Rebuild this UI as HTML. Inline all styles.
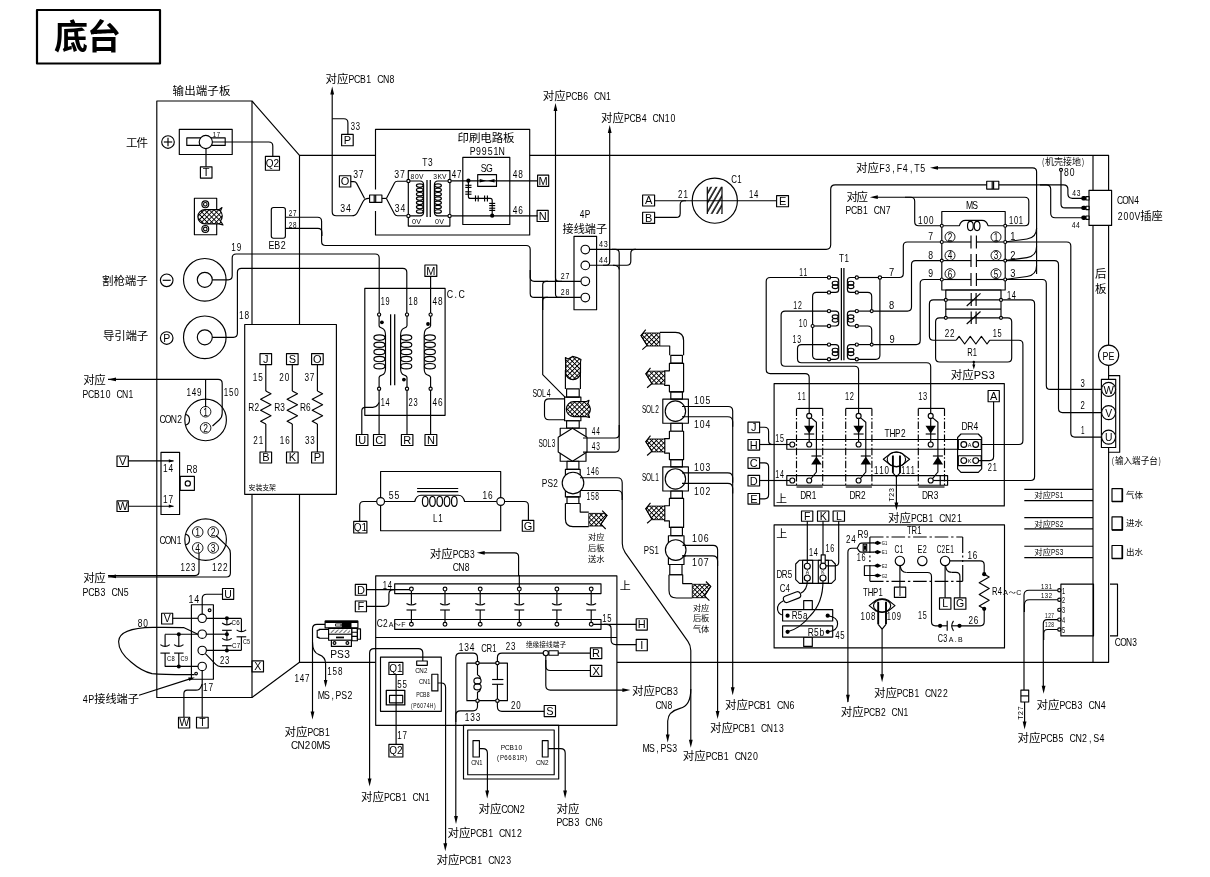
<!DOCTYPE html>
<html lang="zh"><head><meta charset="utf-8"><title>底台</title>
<style>
html,body{margin:0;padding:0;background:#fff}
svg{display:block;will-change:transform}
svg *{vector-effect:none}
.d{fill:none;stroke:#000;stroke-width:1.15;stroke-linecap:butt;stroke-linejoin:round}
text{font-family:"Liberation Sans","Noto Sans CJK SC",sans-serif;fill:#000;stroke:none;font-weight:400}
.bl{font-family:"Liberation Sans",sans-serif}
.mo{font-family:"Liberation Mono","Liberation Sans",monospace}
</style></head><body>
<svg width="1210" height="877" viewBox="0 0 1210 877">
<defs>
<pattern id="hx" width="3.4" height="3.4" patternUnits="userSpaceOnUse" patternTransform="rotate(45)"><rect width="3.4" height="3.4" fill="#fff" stroke="none"/><path d="M0 0H3.4M0 0V3.4" stroke="#000" stroke-width="1.9" fill="none"/></pattern>
<pattern id="hd" width="3" height="3" patternUnits="userSpaceOnUse" patternTransform="rotate(45)"><path d="M0 0V3" stroke="#000" stroke-width="1.1" fill="none"/></pattern>
<pattern id="hc" width="4.6" height="4.6" patternUnits="userSpaceOnUse" patternTransform="rotate(30)"><path d="M1 0V4.6" stroke="#000" stroke-width="1.5" fill="none"/></pattern>
</defs>
<g class="d">
<rect x="37" y="10" width="123" height="53.5" stroke-width="2.2"/>
<text x="54" y="48.9" font-size="34" style="font-weight:700" textLength="67" lengthAdjust="spacing">底台</text>
<path d="M375.5 155.3 L299.5 155.3 L252 101 L156.8 101 L156.8 697.5 L252 697.5 L299.5 662.3 L375.7 662.3"/>
<path d="M529.7 155.3 L1108.6 155.3 L1108.6 662.3 L616.9 662.3"/>
<path d="M252 101 L252 697.5"/>
<path d="M299.5 155.3 L299.5 662.3"/>
<path d="M1093 155.3 L1093 662.3"/>
<text x="172.6" y="95.14" font-size="11.5" textLength="57.8" lengthAdjust="spacing">输出端子板</text>
<text x="126" y="146.94" font-size="11.5" textLength="22" lengthAdjust="spacing">工件</text>
<circle cx="168" cy="142" r="6.3"/>
<path d="M163.8 142 L172.2 142"/>
<path d="M168 137.8 L168 146.2"/>
<rect x="179.3" y="129.3" width="52.9" height="25.2"/>
<rect x="186.8" y="137.9" width="38.4" height="7.5"/>
<circle cx="205.8" cy="142" r="6.6" fill="#fff"/>
<text transform="translate(212.5 136.88) scale(0.76 1)" x="2.64 7.92" y="0" font-size="8" text-anchor="middle" xml:space="preserve">17</text>
<path d="M212.4 142 L268.8 142 Q272.8 142 272.8 146 L272.8 156.3"/>
<rect x="265.4" y="156.3" width="14.1" height="13.9"/>
<text x="272.45" y="166.85" font-size="10" text-anchor="middle" class="bl">Q2</text>
<path d="M206 148.6 L206 166.8"/>
<rect x="200.4" y="166.8" width="11.6" height="11.3"/>
<text x="206.2" y="176.41" font-size="11" text-anchor="middle" class="bl">T</text>
<rect x="194.4" y="198.2" width="22.3" height="36.5"/>
<circle cx="205.3" cy="204.3" r="3.4"/>
<circle cx="205.3" cy="204.3" r="1.8"/>
<circle cx="205.3" cy="228.9" r="3.4"/>
<circle cx="205.3" cy="228.9" r="1.8"/>
<path d="M205 209.6 H219 L222 207.5 L220.5 211 Q224 216 220.5 221 L223 225 L219 223.9 H205 A7.15 7.15 0 0 1 205 209.6Z" fill="url(#hx)"/>
<rect x="271.3" y="207.5" width="14.1" height="30.7" rx="2.2"/>
<text transform="translate(288.4 215.66) scale(0.66 1)" x="3.17 9.5" y="0" font-size="9.6" text-anchor="middle" xml:space="preserve">27</text>
<text transform="translate(288.4 227.66) scale(0.66 1)" x="3.17 9.5" y="0" font-size="9.6" text-anchor="middle" xml:space="preserve">28</text>
<text transform="translate(268.5 248.8) scale(0.89 1)" x="3.3 9.9 16.5" y="0" font-size="10" text-anchor="middle" xml:space="preserve">EB2</text>
<text x="102" y="284.94" font-size="11.5" textLength="45.8" lengthAdjust="spacing">割枪端子</text>
<text x="103" y="340.14" font-size="11.5" textLength="45.2" lengthAdjust="spacing">导引端子</text>
<circle cx="166.7" cy="280.3" r="6.3"/>
<path d="M162.7 280.3 L170.7 280.3"/>
<circle cx="166.7" cy="338" r="6.3"/>
<text transform="translate(163.2 342.08) scale(1 1)" x="3.5" y="0" font-size="10.5" text-anchor="middle" xml:space="preserve">P</text>
<circle cx="204.8" cy="279.8" r="21.3"/>
<circle cx="204.8" cy="279.8" r="7.5"/>
<circle cx="204.8" cy="337.3" r="21.3"/>
<circle cx="204.8" cy="337.3" r="7.5"/>
<text transform="translate(230.9 250.98) scale(0.78 1)" x="3.47 10.4" y="0" font-size="10.5" text-anchor="middle" xml:space="preserve">19</text>
<text transform="translate(238.7 319.18) scale(0.79 1)" x="3.47 10.4" y="0" font-size="10.5" text-anchor="middle" xml:space="preserve">18</text>
<path d="M212.3 279.8 L228.2 279.8 Q232.2 279.8 232.2 275.8 L232.2 258 Q232.2 254 236.2 254 L375.2 254 Q379.2 254 379.2 258 L379.2 313.2"/>
<rect x="244.7" y="324.5" width="91.7" height="169.8" fill="#fff"/>
<rect x="260" y="353.6" width="11.6" height="11"/>
<text x="265.8" y="363.06" font-size="11" text-anchor="middle" class="bl">J</text>
<rect x="260" y="452" width="11.6" height="11"/>
<text x="265.8" y="461.46" font-size="11" text-anchor="middle" class="bl">B</text>
<path d="M265.8 364.6 L265.8 391"/>
<path d="M265.8 391 L271 393.75 L260.6 399.25 L271 404.75 L260.6 410.25 L271 415.75 L260.6 421.25 L265.8 424"/>
<path d="M265.8 424 L265.8 452"/>
<text transform="translate(252.4 381.08) scale(0.78 1)" x="3.47 10.4" y="0" font-size="10.5" text-anchor="middle" xml:space="preserve">15</text>
<text transform="translate(252.9 444.18) scale(0.77 1)" x="3.47 10.4" y="0" font-size="10.5" text-anchor="middle" xml:space="preserve">21</text>
<text transform="translate(248.6 411.48) scale(0.79 1)" x="3.47 10.4" y="0" font-size="10.5" text-anchor="middle" xml:space="preserve">R2</text>
<rect x="286.5" y="353.6" width="11.6" height="11"/>
<text x="292.3" y="363.06" font-size="11" text-anchor="middle" class="bl">S</text>
<rect x="286.5" y="452" width="11.6" height="11"/>
<text x="292.3" y="461.46" font-size="11" text-anchor="middle" class="bl">K</text>
<path d="M292.3 364.6 L292.3 391"/>
<path d="M292.3 391 L297.5 393.75 L287.1 399.25 L297.5 404.75 L287.1 410.25 L297.5 415.75 L287.1 421.25 L292.3 424"/>
<path d="M292.3 424 L292.3 452"/>
<text transform="translate(278.9 381.08) scale(0.78 1)" x="3.47 10.4" y="0" font-size="10.5" text-anchor="middle" xml:space="preserve">20</text>
<text transform="translate(279.4 444.18) scale(0.77 1)" x="3.47 10.4" y="0" font-size="10.5" text-anchor="middle" xml:space="preserve">16</text>
<text transform="translate(274.4 411.48) scale(0.79 1)" x="3.47 10.4" y="0" font-size="10.5" text-anchor="middle" xml:space="preserve">R3</text>
<rect x="311.6" y="353.6" width="11.6" height="11"/>
<text x="317.4" y="363.06" font-size="11" text-anchor="middle" class="bl">O</text>
<rect x="311.6" y="452" width="11.6" height="11"/>
<text x="317.4" y="461.46" font-size="11" text-anchor="middle" class="bl">P</text>
<path d="M317.4 364.6 L317.4 391"/>
<path d="M317.4 391 L322.6 393.75 L312.2 399.25 L322.6 404.75 L312.2 410.25 L322.6 415.75 L312.2 421.25 L317.4 424"/>
<path d="M317.4 424 L317.4 452"/>
<text transform="translate(304 381.08) scale(0.78 1)" x="3.47 10.4" y="0" font-size="10.5" text-anchor="middle" xml:space="preserve">37</text>
<text transform="translate(304.5 444.18) scale(0.77 1)" x="3.47 10.4" y="0" font-size="10.5" text-anchor="middle" xml:space="preserve">33</text>
<text transform="translate(300.2 411.48) scale(0.79 1)" x="3.47 10.4" y="0" font-size="10.5" text-anchor="middle" xml:space="preserve">R6</text>
<text x="248.6" y="489.88" font-size="6.9" textLength="27.4" lengthAdjust="spacing">安装支架</text>
<polygon points="108,379.4 116,377.5 116,381.3" fill="#000" stroke="none"/>
<path d="M108 379.4 L218.2 379.4 Q222.2 379.4 222.2 383.4 L222.2 413.3 Q222.2 417.3 219.22 419.97 L212.5 426"/>
<path d="M205.6 379.4 L205.6 407.2"/>
<text x="83.3" y="384.04" font-size="11.5" textLength="22.5" lengthAdjust="spacing">对应</text>
<text transform="translate(82.6 398.28) scale(0.82 1)" x="3.47 10.4 17.33 24.26 31.19 38.12 45.05 51.98 58.91" y="0" font-size="10.5" text-anchor="middle" xml:space="preserve">PCB10 CN1</text>
<text transform="translate(186 396.48) scale(0.77 1)" x="3.47 10.4 17.32" y="0" font-size="10.5" text-anchor="middle" xml:space="preserve">149</text>
<text transform="translate(223.4 396.48) scale(0.76 1)" x="3.47 10.4 17.32" y="0" font-size="10.5" text-anchor="middle" xml:space="preserve">150</text>
<circle cx="205.6" cy="419.9" r="20.8"/>
<circle cx="205.6" cy="411.7" r="5.3" stroke-width="0.9"/>
<text transform="translate(202.8 415.68) scale(0.81 1)" x="3.47" y="0" font-size="10.5" text-anchor="middle" xml:space="preserve">1</text>
<circle cx="205.6" cy="427.9" r="5.3" stroke-width="0.9"/>
<text transform="translate(202.8 431.88) scale(0.81 1)" x="3.47" y="0" font-size="10.5" text-anchor="middle" xml:space="preserve">2</text>
<text transform="translate(159.7 422.5) scale(0.86 1)" x="3.3 9.9 16.5 23.1" y="0" font-size="10" text-anchor="middle" xml:space="preserve">CON2</text>
<path d="M186 414.5 A5 5.5 0 0 1 186 425"/>
<rect x="161" y="452.3" width="18.6" height="62.2"/>
<rect x="117" y="456" width="11.3" height="10.5"/>
<text x="122.65" y="465.21" font-size="11" text-anchor="middle" class="bl">V</text>
<rect x="117" y="500.9" width="11.3" height="10.6"/>
<text x="122.65" y="510.16" font-size="11" text-anchor="middle" class="bl">W</text>
<path d="M128.3 460.9 L173.5 460.9"/>
<path d="M128.3 506.2 L173.5 506.2"/>
<polygon points="173.8,460.9 168.8,459.3 168.8,462.5" fill="#000" stroke="none"/>
<polygon points="173.8,506.2 168.8,504.6 168.8,507.8" fill="#000" stroke="none"/>
<text transform="translate(162.6 471.5) scale(0.83 1)" x="3.3 9.9" y="0" font-size="10" text-anchor="middle" xml:space="preserve">14</text>
<text transform="translate(162.6 502.9) scale(0.83 1)" x="3.3 9.9" y="0" font-size="10" text-anchor="middle" xml:space="preserve">17</text>
<text transform="translate(186.8 472.8) scale(0.83 1)" x="3.3 9.9" y="0" font-size="10" text-anchor="middle" xml:space="preserve">R8</text>
<rect x="180.2" y="476.4" width="14.2" height="13.9"/>
<circle cx="187.8" cy="483.4" r="2.6"/>
<circle cx="205.6" cy="539.6" r="20.8"/>
<circle cx="197.7" cy="532" r="5.3" stroke-width="0.9"/>
<text transform="translate(194.9 535.98) scale(0.81 1)" x="3.47" y="0" font-size="10.5" text-anchor="middle" xml:space="preserve">1</text>
<circle cx="213.2" cy="532" r="5.3" stroke-width="0.9"/>
<text transform="translate(210.4 535.98) scale(0.81 1)" x="3.47" y="0" font-size="10.5" text-anchor="middle" xml:space="preserve">2</text>
<circle cx="197.7" cy="547.9" r="5.3" stroke-width="0.9"/>
<text transform="translate(194.9 551.88) scale(0.81 1)" x="3.47" y="0" font-size="10.5" text-anchor="middle" xml:space="preserve">4</text>
<circle cx="213.2" cy="547.9" r="5.3" stroke-width="0.9"/>
<text transform="translate(210.4 551.88) scale(0.81 1)" x="3.47" y="0" font-size="10.5" text-anchor="middle" xml:space="preserve">3</text>
<text transform="translate(159.7 543.8) scale(0.84 1)" x="3.3 9.9 16.5 23.1" y="0" font-size="10" text-anchor="middle" xml:space="preserve">CON1</text>
<path d="M186 534.2 A5 5.5 0 0 1 186 544.7"/>
<text transform="translate(180.2 570.78) scale(0.75 1)" x="3.47 10.39 17.33" y="0" font-size="10.5" text-anchor="middle" xml:space="preserve">123</text>
<text transform="translate(211.6 570.78) scale(0.79 1)" x="3.47 10.4 17.32" y="0" font-size="10.5" text-anchor="middle" xml:space="preserve">122</text>
<path d="M199 552.4 L199 571.6 Q199 575.6 195 575.6 L108 575.6"/>
<path d="M216 535.5 L227.53 546.71 Q230.4 549.5 230.4 553.5 L230.4 573 Q230.4 577 226.4 577 L108 577"/>
<polygon points="108,576.3 116,574.4 116,578.2" fill="#000" stroke="none"/>
<text x="83.3" y="581.74" font-size="11.5" textLength="22.5" lengthAdjust="spacing">对应</text>
<text transform="translate(82.6 595.98) scale(0.84 1)" x="3.47 10.4 17.33 24.25 31.19 38.12 45.05 51.98" y="0" font-size="10.5" text-anchor="middle" xml:space="preserve">PCB3 CN5</text>
<text x="325.6" y="82.84" font-size="11.5" textLength="23" lengthAdjust="spacing">对应</text><text transform="translate(348.6 82.84) scale(0.76 1)" x="3.8 11.39 18.98 26.57 34.16 41.75 49.34 56.93" y="0" font-size="11.5" text-anchor="middle" xml:space="preserve">PCB1 CN8</text>
<polygon points="332.2,86.6 330.3,94.6 334.1,94.6" fill="#000" stroke="none"/>
<path d="M332.2 90 L332.2 211.7 Q332.2 215.7 336.2 215.7 L351.7 215.7 Q355.7 215.7 357.53 212.14 L362.77 201.96 Q364.6 198.4 368.6 198.4 L369.6 198.4"/>
<path d="M332.2 118.7 L343.9 118.7 Q347.9 118.7 347.9 122.7 L347.9 134.4"/>
<rect x="341.6" y="134.4" width="11.6" height="11.4"/>
<text x="347.4" y="144.06" font-size="11" text-anchor="middle" class="bl">P</text>
<text transform="translate(350.4 130.08) scale(0.73 1)" x="3.47 10.4" y="0" font-size="10.5" text-anchor="middle" xml:space="preserve">33</text>
<rect x="339.4" y="175.7" width="11.4" height="11.3"/>
<text x="345.1" y="185.31" font-size="11" text-anchor="middle" class="bl">O</text>
<text transform="translate(352.7 178.28) scale(0.82 1)" x="3.47 10.4" y="0" font-size="10.5" text-anchor="middle" xml:space="preserve">37</text>
<text transform="translate(339.8 212.38) scale(0.83 1)" x="3.47 10.4" y="0" font-size="10.5" text-anchor="middle" xml:space="preserve">34</text>
<path d="M350.8 181.6 L353.7 181.6 Q355.7 181.6 356.64 183.37 L364.6 198.4"/>
<rect x="369.6" y="195" width="12.3" height="7.3"/>
<path d="M375.7 195 L375.7 202.3"/>
<path d="M374.2 195 L374.2 202.3"/>
<path d="M381.9 198.4 L386.4 198.4"/>
<path d="M386.4 198.4 L394.47 182.97 Q395.4 181.2 397.4 181.2 L406.8 181.2"/>
<path d="M386.4 198.4 L394.48 213.93 Q395.4 215.7 397.4 215.7 L406.8 215.7"/>
<text transform="translate(393.8 178.28) scale(0.83 1)" x="3.47 10.4" y="0" font-size="10.5" text-anchor="middle" xml:space="preserve">37</text>
<text transform="translate(394.4 212.38) scale(0.82 1)" x="3.47 10.4" y="0" font-size="10.5" text-anchor="middle" xml:space="preserve">34</text>
<path d="M375.5 189.6 L375.5 129.3 L529.7 129.3 L529.7 235 L375.5 235 L375.5 211"/>
<text x="457.5" y="142.34" font-size="11.5" textLength="57" lengthAdjust="spacing">印刷电路板</text>
<text transform="translate(469.8 155.26) scale(0.8 1)" x="3.63 10.89 18.15 25.41 32.67 39.93" y="0" font-size="11" text-anchor="middle" xml:space="preserve">P9951N</text>
<text transform="translate(422.1 165.66) scale(0.76 1)" x="3.63 10.89" y="0" font-size="11" text-anchor="middle" xml:space="preserve">T3</text>
<rect x="408.3" y="170.6" width="41.6" height="55.5"/>
<text transform="translate(410.2 178.8) scale(0.9 1)" x="2.48 7.43 12.38" y="0" font-size="7.5" text-anchor="middle" xml:space="preserve">80V</text>
<text transform="translate(433 178.8) scale(0.9 1)" x="2.48 7.43 12.38" y="0" font-size="7.5" text-anchor="middle" xml:space="preserve">3KV</text>
<text transform="translate(411.6 224.1) scale(0.97 1)" x="2.48 7.43" y="0" font-size="7.5" text-anchor="middle" xml:space="preserve">0V</text>
<text transform="translate(434.6 224.1) scale(0.95 1)" x="2.48 7.42" y="0" font-size="7.5" text-anchor="middle" xml:space="preserve">0V</text>
<path d="M409.9 181 H420 Q423.6 181 423.6 185 V212 Q423.6 215.9 420 215.9 H409.9"/>
<path d="M448 181 H438 Q434.4 181 434.4 185 V212 Q434.4 215.9 438 215.9 H448"/>
<ellipse cx="419.8" cy="185.6" rx="3.4" ry="1.7"/><ellipse cx="438" cy="185.6" rx="3.4" ry="1.7"/>
<ellipse cx="419.8" cy="189.9" rx="3.4" ry="1.7"/><ellipse cx="438" cy="189.9" rx="3.4" ry="1.7"/>
<ellipse cx="419.8" cy="194.2" rx="3.4" ry="1.7"/><ellipse cx="438" cy="194.2" rx="3.4" ry="1.7"/>
<ellipse cx="419.8" cy="198.5" rx="3.4" ry="1.7"/><ellipse cx="438" cy="198.5" rx="3.4" ry="1.7"/>
<ellipse cx="419.8" cy="202.8" rx="3.4" ry="1.7"/><ellipse cx="438" cy="202.8" rx="3.4" ry="1.7"/>
<ellipse cx="419.8" cy="207.1" rx="3.4" ry="1.7"/><ellipse cx="438" cy="207.1" rx="3.4" ry="1.7"/>
<ellipse cx="419.8" cy="211.4" rx="3.4" ry="1.7"/><ellipse cx="438" cy="211.4" rx="3.4" ry="1.7"/>
<path d="M427 179.9 L427 217.1" stroke-width="1.25"/>
<path d="M430.3 179.9 L430.3 217.1" stroke-width="1.25"/>
<circle cx="408.4" cy="181" r="1.6" fill="#fff"/>
<circle cx="408.4" cy="215.9" r="1.6" fill="#fff"/>
<circle cx="449.6" cy="181" r="1.6" fill="#fff"/>
<circle cx="449.6" cy="215.9" r="1.6" fill="#fff"/>
<text transform="translate(451.3 178.28) scale(0.76 1)" x="3.47 10.4" y="0" font-size="10.5" text-anchor="middle" xml:space="preserve">47</text>
<rect x="462.8" y="157.3" width="47" height="67.2"/>
<text transform="translate(480.7 172.16) scale(0.79 1)" x="3.63 10.89" y="0" font-size="11" text-anchor="middle" xml:space="preserve">SG</text>
<path d="M451.2 180.8 L537.6 180.8"/>
<path d="M451.2 215.8 L537.6 215.8"/>
<rect x="477.7" y="174.6" width="18.8" height="11.8"/>
<polygon points="486.2,180.7 479.7,178.9 479.7,182.5" fill="#000" stroke="none"/>
<polygon points="488,180.7 494.5,178.9 494.5,182.5" fill="#000" stroke="none"/>
<circle cx="468.4" cy="180.7" r="2.1" fill="#000" stroke="none"/>
<circle cx="492.2" cy="215.7" r="2.1" fill="#000" stroke="none"/>
<path d="M468.4 180.7 L468.4 196.4 Q468.4 198.4 470.4 198.4 L490.2 198.4 Q492.2 198.4 492.2 200.4 L492.2 215.7"/>
<path d="M465.3 185.3 L471.5 185.3"/>
<path d="M465.3 187.4 L471.5 187.4"/>
<path d="M465.3 191.8 L471.5 191.8"/>
<path d="M465.3 194.2 L471.5 194.2"/>
<path d="M475.5 195.4 L475.5 201.4"/>
<path d="M478.2 195.4 L478.2 201.4"/>
<path d="M484.6 195.4 L484.6 201.4"/>
<path d="M487.4 195.4 L487.4 201.4"/>
<path d="M489.2 203.4 L495.2 203.4"/>
<path d="M489.2 205.6 L495.2 205.6"/>
<path d="M489.2 208.2 L495.2 208.2"/>
<path d="M489.2 210.4 L495.2 210.4"/>
<text transform="translate(512.4 178.28) scale(0.79 1)" x="3.47 10.4" y="0" font-size="10.5" text-anchor="middle" xml:space="preserve">48</text>
<text transform="translate(512.4 213.98) scale(0.79 1)" x="3.47 10.4" y="0" font-size="10.5" text-anchor="middle" xml:space="preserve">46</text>
<rect x="537.6" y="175.1" width="11.1" height="11.3"/>
<text x="543.15" y="184.71" font-size="11" text-anchor="middle" class="bl">M</text>
<rect x="537.1" y="210.3" width="11.1" height="11.2"/>
<text x="542.65" y="219.86" font-size="11" text-anchor="middle" class="bl">N</text>
<path d="M285.6 217.2 L317.6 217.2 Q321.6 217.2 321.6 221.2 L321.6 241.5 Q321.6 245.5 325.6 245.5 L526.2 245.5 Q530.2 245.5 530.2 249.5 L530.2 277.3 Q530.2 281.3 534.2 281.3 L580.9 281.3"/>
<path d="M285.6 228.4 L317.9 228.4 Q321.9 228.4 321.9 232.4 L321.9 236"/>
<path d="M530.2 270 L530.2 293.4 Q530.2 297.4 534.2 297.4 L580.9 297.4"/>
<path d="M212.3 337.3 L233.4 337.3 Q237.4 337.3 237.4 333.3 L237.4 272.3 Q237.4 268.3 241.4 268.3 L402.8 268.3 Q406.8 268.3 406.8 272.3 L406.8 313.2"/>
<text x="542.8" y="99.64" font-size="11.5" textLength="23" lengthAdjust="spacing">对应</text><text transform="translate(565.8 99.64) scale(0.75 1)" x="3.8 11.39 18.98 26.57 34.16 41.75 49.34 56.93" y="0" font-size="11.5" text-anchor="middle" xml:space="preserve">PCB6 CN1</text>
<text x="601" y="121.54" font-size="11.5" textLength="23" lengthAdjust="spacing">对应</text><text transform="translate(624 121.54) scale(0.76 1)" x="3.8 11.38 18.98 26.57 34.16 41.75 49.34 56.93 64.52" y="0" font-size="11.5" text-anchor="middle" xml:space="preserve">PCB4 CN10</text>
<polygon points="555.5,103.1 553.6,111.1 557.4,111.1" fill="#000" stroke="none"/>
<polygon points="609.7,125 607.8,133 611.6,133" fill="#000" stroke="none"/>
<path d="M555.5 108 L555.5 293.9 Q555.5 297.4 559 297.4 L562 297.4"/>
<path d="M555.5 270 L555.5 277.8 Q555.5 281.3 559 281.3 L562 281.3"/>
<path d="M548 281.3 L546.2 281.3 Q542.7 281.3 542.7 284.8 L542.7 300"/>
<path d="M542.7 300 L542.7 374.6 L565 397.1"/>
<path d="M548 297.4 L546.2 297.4 Q542.7 297.4 542.7 300.9 L542.7 310"/>
<text transform="translate(579.3 217.68) scale(0.79 1)" x="3.47 10.4" y="0" font-size="10.5" text-anchor="middle" xml:space="preserve">4P</text>
<text x="562.5" y="232.83" font-size="11.2" textLength="44.6" lengthAdjust="spacing">接线端子</text>
<rect x="574" y="236.3" width="22.6" height="73.4"/>
<circle cx="585.3" cy="249.5" r="4.3" fill="#fff"/>
<circle cx="585.3" cy="265.4" r="4.3" fill="#fff"/>
<circle cx="585.3" cy="281.3" r="4.3" fill="#fff"/>
<circle cx="585.3" cy="297.5" r="4.3" fill="#fff"/>
<text transform="translate(598.6 247.42) scale(0.76 1)" x="3.14 9.4" y="0" font-size="9.5" text-anchor="middle" xml:space="preserve">43</text>
<text transform="translate(598.6 263.02) scale(0.76 1)" x="3.14 9.4" y="0" font-size="9.5" text-anchor="middle" xml:space="preserve">44</text>
<text transform="translate(560.5 279.42) scale(0.74 1)" x="3.14 9.41" y="0" font-size="9.5" text-anchor="middle" xml:space="preserve">27</text>
<text transform="translate(560.5 295.22) scale(0.74 1)" x="3.14 9.41" y="0" font-size="9.5" text-anchor="middle" xml:space="preserve">28</text>
<path d="M609.7 130 L609.7 261.7 Q609.7 265.2 606.2 265.2 L603 265.2"/>
<circle cx="714.8" cy="200.7" r="22.6"/>
<rect x="707.3" y="186.8" width="14.7" height="27.1" fill="url(#hc)" stroke="none"/>
<path d="M707.3 213.9V186.8M722 186.8V213.9"/>
<text transform="translate(731.6 182.98) scale(0.75 1)" x="3.47 10.4" y="0" font-size="10.5" text-anchor="middle" xml:space="preserve">C1</text>
<rect x="642.6" y="195" width="12" height="11"/>
<text x="648.6" y="204.46" font-size="11" text-anchor="middle" class="bl">A</text>
<rect x="642.6" y="212.2" width="12" height="11.2"/>
<text x="648.6" y="221.76" font-size="11" text-anchor="middle" class="bl">B</text>
<rect x="776.6" y="195.6" width="11.9" height="11.1"/>
<text x="782.55" y="205.11" font-size="11" text-anchor="middle" class="bl">E</text>
<path d="M654.6 200.7 L776.6 200.7"/>
<path d="M654.6 217.4 L676.2 217.4 Q680.2 217.4 680.2 213.4 L680.2 204.7 Q680.2 200.7 684.2 200.7 L686 200.7"/>
<text transform="translate(677.7 197.78) scale(0.76 1)" x="3.47 10.4" y="0" font-size="10.5" text-anchor="middle" xml:space="preserve">21</text>
<text transform="translate(748.5 197.78) scale(0.74 1)" x="3.47 10.4" y="0" font-size="10.5" text-anchor="middle" xml:space="preserve">14</text>
<path d="M589.6 249.3 L826.2 249.3 Q830.7 249.3 830.7 244.8 L830.7 189.3 Q830.7 184.8 835.2 184.8 L1063.4 184.8 Q1067.9 184.8 1067.9 189.3 L1067.9 193.8 Q1067.9 198.3 1072.4 198.3 L1082 198.3"/>
<path d="M589.6 265.2 L626.8 265.2 Q630.8 265.2 630.8 261.2 L630.8 253.3 Q630.8 249.3 634.8 249.3 L636 249.3"/>
<path d="M612 249.3 L615.4 249.3 Q619.2 249.3 619.2 253.1 L619.2 430"/>
<path d="M613 265.2 Q619.2 265.2 619.2 269.5"/>
<rect x="986.7" y="181.2" width="12.1" height="7.9" fill="#fff"/>
<path d="M992.2 181.2 L992.2 189.1"/>
<path d="M993.6 181.2 L993.6 189.1"/>
<path d="M1040 184.8 L1046.2 184.8 Q1050.7 184.8 1050.7 189.3 L1050.7 213.2 Q1050.7 217.7 1055.2 217.7 L1082 217.7"/>
<text transform="translate(1041.2 164.84) scale(0.64 1)" x="2.97" y="0" font-size="9" text-anchor="middle" xml:space="preserve">(</text><text x="1045" y="164.84" font-size="9" textLength="36" lengthAdjust="spacing">机壳接地</text><text transform="translate(1081 164.84) scale(0.64 1)" x="2.97" y="0" font-size="9" text-anchor="middle" xml:space="preserve">)</text>
<circle cx="1061" cy="169.8" r="1.5" fill="#fff"/>
<text transform="translate(1063.6 175.98) scale(0.82 1)" x="3.47 10.39" y="0" font-size="10.5" text-anchor="middle" xml:space="preserve">80</text>
<path d="M1061 171.3 L1061 203.9 Q1061 207.9 1065 207.9 L1082 207.9"/>
<text transform="translate(1072 195.77) scale(0.76 1)" x="2.9 8.71" y="0" font-size="8.8" text-anchor="middle" xml:space="preserve">43</text>
<text transform="translate(1071.3 227.87) scale(0.77 1)" x="2.9 8.71" y="0" font-size="8.8" text-anchor="middle" xml:space="preserve">44</text>
<rect x="1089" y="190.3" width="22.6" height="35.1" fill="#fff"/>
<rect x="1081.3" y="196.1" width="5" height="4.4" rx="1.8" fill="#000" stroke="none"/>
<rect x="1086" y="196.6" width="3" height="3.4" fill="#fff"/>
<rect x="1081.3" y="205.7" width="5" height="4.4" rx="1.8" fill="#000" stroke="none"/>
<rect x="1086" y="206.2" width="3" height="3.4" fill="#fff"/>
<rect x="1081.3" y="215.5" width="5" height="4.4" rx="1.8" fill="#000" stroke="none"/>
<rect x="1086" y="216" width="3" height="3.4" fill="#fff"/>
<text transform="translate(1117.2 204.28) scale(0.8 1)" x="3.47 10.4 17.33 24.26" y="0" font-size="10.5" text-anchor="middle" xml:space="preserve">CON4</text>
<text transform="translate(1117.2 219.97) scale(0.77 1)" x="3.73 11.19 18.65 26.1" y="0" font-size="11.3" text-anchor="middle" xml:space="preserve">200V</text><text x="1140.2" y="219.97" font-size="11.3" textLength="22.6" lengthAdjust="spacing">插座</text>
<text x="1095" y="277.94" font-size="11.5" textLength="11.5" lengthAdjust="spacing">后</text>
<text x="1095" y="292.74" font-size="11.5" textLength="11.5" lengthAdjust="spacing">板</text>
<text x="856" y="171.94" font-size="11.5" textLength="23" lengthAdjust="spacing">对应</text><text transform="translate(879 171.94) scale(0.77 1)" x="3.8 11.39 18.98 26.57 34.16 41.75 49.34 56.93" y="0" font-size="11.5" text-anchor="middle" xml:space="preserve">F3,F4,T5</text>
<polygon points="930,167.8 938,165.9 938,169.7" fill="#000" stroke="none"/>
<path d="M934 167.8 L1032.6 167.8 Q1036.6 167.8 1036.6 171.8 L1036.6 274"/>
<path d="M1036.6 228 Q1036.6 237.5 1027 239 L1006.5 241.8"/>
<path d="M1036.6 246.6 Q1036.6 256.1 1027 257.6 L1006.5 260.4"/>
<path d="M1036.6 265.5 Q1036.6 275 1027 276.5 L1006.5 279.3"/>
<text x="846.4" y="201.34" font-size="11.5" textLength="21.6" lengthAdjust="spacing">对应</text>
<text transform="translate(845.6 214.18) scale(0.82 1)" x="3.47 10.4 17.33 24.26 31.19 38.12 45.05 51.98" y="0" font-size="10.5" text-anchor="middle" xml:space="preserve">PCB1 CN7</text>
<polygon points="869.8,197.2 877.8,195.3 877.8,199.1" fill="#000" stroke="none"/>
<path d="M874 197.2 L1024.8 197.2 Q1028.8 197.2 1028.8 201.2 L1028.8 221.7 Q1028.8 225.7 1024.8 225.7 L1006.7 225.7"/>
<path d="M905 197.2 L910.7 197.2 Q914.7 197.2 914.7 201.2 L914.7 221.7 Q914.7 225.7 918.7 225.7 L940.3 225.7"/>
<text transform="translate(966.7 208.98) scale(0.82 1)" x="3.47 10.4" y="0" font-size="10.5" text-anchor="middle" xml:space="preserve">MS</text>
<rect x="941.8" y="211.5" width="63.4" height="78.5"/>
<text transform="translate(917.7 224.08) scale(0.78 1)" x="3.47 10.4 17.33" y="0" font-size="10.5" text-anchor="middle" xml:space="preserve">100</text>
<text transform="translate(1008.5 224.08) scale(0.72 1)" x="3.47 10.4 17.32" y="0" font-size="10.5" text-anchor="middle" xml:space="preserve">101</text>
<path d="M943.3 225.7H959.4 Q960.8 220.4 965.5 220.4H982Q986.6 220.4 988 225.7H1003.7"/>
<ellipse cx="970.4" cy="226" rx="2.9" ry="4.6"/><ellipse cx="977.1" cy="226" rx="2.9" ry="4.6"/>
<path d="M943.3 242 L971.2 242"/>
<path d="M976.1 242 L1003.7 242"/>
<text transform="translate(927.7 240.48) scale(0.82 1)" x="3.47" y="0" font-size="10.5" text-anchor="middle" xml:space="preserve">7</text>
<text transform="translate(1009.7 240.48) scale(0.89 1)" x="3.47" y="0" font-size="10.5" text-anchor="middle" xml:space="preserve">1</text>
<circle cx="950" cy="236.9" r="5" stroke-width="0.9"/>
<text transform="translate(947.3 240.8) scale(0.82 1)" x="3.3" y="0" font-size="10" text-anchor="middle" xml:space="preserve">2</text>
<circle cx="996" cy="236.9" r="5" stroke-width="0.9"/>
<text transform="translate(993.3 240.8) scale(0.82 1)" x="3.3" y="0" font-size="10" text-anchor="middle" xml:space="preserve">1</text>
<path d="M971 235.4 L971 248.4"/>
<path d="M976.4 235.4 L976.4 248.4"/>
<path d="M943.3 260.6 L971.2 260.6"/>
<path d="M976.1 260.6 L1003.7 260.6"/>
<text transform="translate(927.7 259.08) scale(0.82 1)" x="3.47" y="0" font-size="10.5" text-anchor="middle" xml:space="preserve">8</text>
<text transform="translate(1009.7 259.08) scale(0.89 1)" x="3.47" y="0" font-size="10.5" text-anchor="middle" xml:space="preserve">2</text>
<circle cx="950" cy="255.5" r="5" stroke-width="0.9"/>
<text transform="translate(947.3 259.4) scale(0.82 1)" x="3.3" y="0" font-size="10" text-anchor="middle" xml:space="preserve">4</text>
<circle cx="996" cy="255.5" r="5" stroke-width="0.9"/>
<text transform="translate(993.3 259.4) scale(0.82 1)" x="3.3" y="0" font-size="10" text-anchor="middle" xml:space="preserve">3</text>
<path d="M971 254 L971 267"/>
<path d="M976.4 254 L976.4 267"/>
<path d="M943.3 279.5 L971.2 279.5"/>
<path d="M976.1 279.5 L1003.7 279.5"/>
<text transform="translate(927.7 277.28) scale(0.82 1)" x="3.47" y="0" font-size="10.5" text-anchor="middle" xml:space="preserve">9</text>
<text transform="translate(1009.7 277.28) scale(0.89 1)" x="3.47" y="0" font-size="10.5" text-anchor="middle" xml:space="preserve">3</text>
<circle cx="950" cy="273.7" r="5" stroke-width="0.9"/>
<text transform="translate(947.3 277.6) scale(0.82 1)" x="3.3" y="0" font-size="10" text-anchor="middle" xml:space="preserve">6</text>
<circle cx="996" cy="273.7" r="5" stroke-width="0.9"/>
<text transform="translate(993.3 277.6) scale(0.82 1)" x="3.3" y="0" font-size="10" text-anchor="middle" xml:space="preserve">5</text>
<path d="M971 272.9 L971 285.9"/>
<path d="M976.4 272.9 L976.4 285.9"/>
<circle cx="941.8" cy="225.7" r="1.5" fill="#fff"/>
<circle cx="1005.2" cy="225.7" r="1.5" fill="#fff"/>
<circle cx="941.8" cy="242" r="1.5" fill="#fff"/>
<circle cx="1005.2" cy="242" r="1.5" fill="#fff"/>
<circle cx="941.8" cy="260.6" r="1.5" fill="#fff"/>
<circle cx="1005.2" cy="260.6" r="1.5" fill="#fff"/>
<circle cx="941.8" cy="279.5" r="1.5" fill="#fff"/>
<circle cx="1005.2" cy="279.5" r="1.5" fill="#fff"/>
<rect x="945.8" y="290" width="55.2" height="27.8"/>
<path d="M945.8 299.9 L1001 299.9"/>
<path d="M945.8 309.1 L1001 309.1"/>
<path d="M971.2 293 L971.2 306"/>
<path d="M971.2 311.5 L971.2 324"/>
<path d="M976.1 293 L976.1 306"/>
<path d="M976.1 311.5 L976.1 324"/>
<path d="M966.7 306 L980.5 293.4"/>
<path d="M966.7 324 L980.5 311.5"/>
<circle cx="945.8" cy="299.9" r="1.5" fill="#fff"/>
<circle cx="1001" cy="299.9" r="1.5" fill="#fff"/>
<circle cx="945.8" cy="317.8" r="1.5" fill="#fff"/>
<circle cx="1001" cy="317.8" r="1.5" fill="#fff"/>
<text transform="translate(1006.5 298.68) scale(0.71 1)" x="3.46 10.39" y="0" font-size="10.5" text-anchor="middle" xml:space="preserve">14</text>
<path d="M1002.5 299.9 L1030.6 299.9 Q1034.6 299.9 1034.6 303.9 L1034.6 476.5 Q1034.6 480.5 1030.6 480.5 L947.6 480.5"/>
<path d="M944.3 299.9 L933.4 299.9 Q929.4 299.9 929.4 303.9 L929.4 336.2 Q929.4 340.2 933.4 340.2 L956.3 340.2"/>
<path d="M956.3 340.2 L959.09 336.4 L964.67 344 L970.26 336.4 L975.84 344 L981.42 336.4 L987.01 344 L989.8 340.2"/>
<text transform="translate(944.3 337.18) scale(0.77 1)" x="3.47 10.4" y="0" font-size="10.5" text-anchor="middle" xml:space="preserve">22</text>
<text transform="translate(992.3 337.18) scale(0.71 1)" x="3.47 10.4" y="0" font-size="10.5" text-anchor="middle" xml:space="preserve">15</text>
<text transform="translate(967.4 356.38) scale(0.72 1)" x="3.47 10.4" y="0" font-size="10.5" text-anchor="middle" xml:space="preserve">R1</text>
<path d="M989.8 340.2 L1018.9 340.2 Q1022.9 340.2 1022.9 344.2 L1022.9 440.5 Q1022.9 444.5 1018.9 444.5 L978.6 444.5"/>
<path d="M944.3 317.8 L939.6 317.8 Q935.6 317.8 935.6 321.8 L935.6 358 Q935.6 362 939.6 362 L1007.7 362 Q1011.7 362 1011.7 358 L1011.7 321.8 Q1011.7 317.8 1007.7 317.8 L1002.5 317.8"/>
<circle cx="973.8" cy="362" r="1.2" fill="#000" stroke="none"/>
<path d="M973.8 362 L973.8 366"/>
<polygon points="973.8,369.6 972.3,364.6 975.3,364.6" fill="#000" stroke="none"/>
<text x="950.8" y="379.04" font-size="11.5" textLength="23" lengthAdjust="spacing">对应</text><text transform="translate(973.8 379.04) scale(0.95 1)" x="3.8 11.39 18.98" y="0" font-size="11.5" text-anchor="middle" xml:space="preserve">PS3</text>
<path d="M940.3 242 L907.3 242 Q903.3 242 903.3 246 L903.3 273.5 Q903.3 277.5 899.3 277.5 L879.9 277.5"/>
<path d="M940.3 260.6 L915.5 260.6 Q911.5 260.6 911.5 264.6 L911.5 307.1 Q911.5 311.1 907.5 311.1 L873.2 311.1"/>
<path d="M940.3 279.5 L924.2 279.5 Q920.2 279.5 920.2 283.5 L920.2 340.6 Q920.2 344.6 916.2 344.6 L873.2 344.6"/>
<text transform="translate(888.4 275.58) scale(0.89 1)" x="3.47" y="0" font-size="10.5" text-anchor="middle" xml:space="preserve">7</text>
<text transform="translate(888.4 309.18) scale(0.89 1)" x="3.47" y="0" font-size="10.5" text-anchor="middle" xml:space="preserve">8</text>
<text transform="translate(889 342.68) scale(0.89 1)" x="3.47" y="0" font-size="10.5" text-anchor="middle" xml:space="preserve">9</text>
<text transform="translate(838.9 261.88) scale(0.76 1)" x="3.47 10.4" y="0" font-size="10.5" text-anchor="middle" xml:space="preserve">T1</text>
<path d="M841.4 268 L841.4 360.3" stroke-width="1.25"/>
<path d="M843.9 268 L843.9 360.3" stroke-width="1.25"/>
<path d="M830.5 277.5 H835.6 Q838.7 277.5 838.7 280.5 V289.4 Q838.7 292.4 835.6 292.4 H830.5"/>
<path d="M855.3 277.5 H850.4 Q847.4 277.5 847.4 280.5 V289.4 Q847.4 292.4 850.4 292.4 H855.3"/>
<ellipse cx="835.2" cy="283.15" rx="3" ry="1.9"/><ellipse cx="835.2" cy="286.75" rx="3" ry="1.9"/>
<ellipse cx="850.9" cy="283.15" rx="3" ry="1.9"/><ellipse cx="850.9" cy="286.75" rx="3" ry="1.9"/>
<circle cx="829" cy="277.5" r="1.6" fill="#fff"/>
<circle cx="829" cy="292.4" r="1.6" fill="#fff"/>
<circle cx="856.8" cy="277.5" r="1.6" fill="#fff"/>
<circle cx="856.8" cy="292.4" r="1.6" fill="#fff"/>
<path d="M830.5 311.1 H835.6 Q838.7 311.1 838.7 314.1 V323 Q838.7 326 835.6 326 H830.5"/>
<path d="M855.3 311.1 H850.4 Q847.4 311.1 847.4 314.1 V323 Q847.4 326 850.4 326 H855.3"/>
<ellipse cx="835.2" cy="316.75" rx="3" ry="1.9"/><ellipse cx="835.2" cy="320.35" rx="3" ry="1.9"/>
<ellipse cx="850.9" cy="316.75" rx="3" ry="1.9"/><ellipse cx="850.9" cy="320.35" rx="3" ry="1.9"/>
<circle cx="829" cy="311.1" r="1.6" fill="#fff"/>
<circle cx="829" cy="326" r="1.6" fill="#fff"/>
<circle cx="856.8" cy="311.1" r="1.6" fill="#fff"/>
<circle cx="856.8" cy="326" r="1.6" fill="#fff"/>
<path d="M830.5 344.6 H835.6 Q838.7 344.6 838.7 347.6 V356.3 Q838.7 359.3 835.6 359.3 H830.5"/>
<path d="M855.3 344.6 H850.4 Q847.4 344.6 847.4 347.6 V356.3 Q847.4 359.3 850.4 359.3 H855.3"/>
<ellipse cx="835.2" cy="350.15" rx="3" ry="1.9"/><ellipse cx="835.2" cy="353.75" rx="3" ry="1.9"/>
<ellipse cx="850.9" cy="350.15" rx="3" ry="1.9"/><ellipse cx="850.9" cy="353.75" rx="3" ry="1.9"/>
<circle cx="829" cy="344.6" r="1.6" fill="#fff"/>
<circle cx="829" cy="359.3" r="1.6" fill="#fff"/>
<circle cx="856.8" cy="344.6" r="1.6" fill="#fff"/>
<circle cx="856.8" cy="359.3" r="1.6" fill="#fff"/>
<text transform="translate(798.9 275.58) scale(0.63 1)" x="3.46 10.39" y="0" font-size="10.5" text-anchor="middle" xml:space="preserve">11</text>
<text transform="translate(793 309.18) scale(0.66 1)" x="3.47 10.4" y="0" font-size="10.5" text-anchor="middle" xml:space="preserve">12</text>
<text transform="translate(792.2 342.68) scale(0.66 1)" x="3.47 10.4" y="0" font-size="10.5" text-anchor="middle" xml:space="preserve">13</text>
<text transform="translate(798.4 326.98) scale(0.66 1)" x="3.47 10.4" y="0" font-size="10.5" text-anchor="middle" xml:space="preserve">10</text>
<path d="M827.5 292.4 L816.6 292.4 Q812.6 292.4 812.6 296.4 L812.6 355.3 Q812.6 359.3 816.6 359.3 L827.5 359.3"/>
<path d="M814.1 326 L827.5 326"/>
<circle cx="812.6" cy="326" r="1.5" fill="#fff"/>
<path d="M858.3 277.5 L879.9 277.5"/>
<path d="M858.3 292.4 L867.7 292.4 Q871.7 292.4 871.7 296.4 L871.7 309.6"/>
<path d="M858.3 311.1 L870.2 311.1"/>
<path d="M858.3 326 L867.7 326 Q871.7 326 871.7 330 L871.7 343.1"/>
<path d="M858.3 344.6 L870.2 344.6"/>
<path d="M858.3 359.3 L875.9 359.3 Q879.9 359.3 879.9 355.3 L879.9 277.5"/>
<circle cx="871.7" cy="311.1" r="1.5" fill="#fff"/>
<circle cx="871.7" cy="344.6" r="1.5" fill="#fff"/>
<circle cx="879.9" cy="277.5" r="1.7" fill="#fff"/>
<path d="M1006.7 242 L1066.8 242 Q1070.8 242 1070.8 246 L1070.8 433.1 Q1070.8 437.1 1074.8 437.1 L1101.6 437.1"/>
<path d="M1006.7 260.6 L1054.5 260.6 Q1058.5 260.6 1058.5 264.6 L1058.5 408.6 Q1058.5 412.6 1062.5 412.6 L1101.6 412.6"/>
<path d="M1006.7 279.5 L1042.3 279.5 Q1046.3 279.5 1046.3 283.5 L1046.3 385.4 Q1046.3 389.4 1050.3 389.4 L1101.6 389.4"/>
<text transform="translate(1080.2 386.78) scale(0.74 1)" x="3.47" y="0" font-size="10.5" text-anchor="middle" xml:space="preserve">3</text>
<text transform="translate(1080.2 409.48) scale(0.74 1)" x="3.47" y="0" font-size="10.5" text-anchor="middle" xml:space="preserve">2</text>
<text transform="translate(1080.6 433.88) scale(0.61 1)" x="3.47" y="0" font-size="10.5" text-anchor="middle" xml:space="preserve">1</text>
<circle cx="1108.6" cy="355.3" r="10.1" fill="#fff"/>
<text transform="translate(1102.6 359.56) scale(0.81 1)" x="3.63 10.89" y="0" font-size="11" text-anchor="middle" xml:space="preserve">PE</text>
<path d="M1108.6 375.6 L1119.7 375.6 L1119.7 452.2 L1108.6 452.2"/>
<rect x="1101.4" y="379.3" width="14.3" height="68.2" fill="#fff"/>
<circle cx="1108.6" cy="389.4" r="7" fill="#fff"/>
<text transform="translate(1104.4 393.56) scale(1 1)" x="4.2" y="0" font-size="11" text-anchor="middle" xml:space="preserve">W</text>
<circle cx="1108.6" cy="412.6" r="7" fill="#fff"/>
<text transform="translate(1105.2 416.76) scale(0.94 1)" x="3.63" y="0" font-size="11" text-anchor="middle" xml:space="preserve">V</text>
<circle cx="1108.6" cy="437.1" r="7" fill="#fff"/>
<text transform="translate(1105.2 441.26) scale(0.94 1)" x="3.63" y="0" font-size="11" text-anchor="middle" xml:space="preserve">U</text>
<text transform="translate(1111.2 464.3) scale(0.65 1)" x="2.84" y="0" font-size="8.6" text-anchor="middle" xml:space="preserve">(</text><text x="1114.9" y="464.3" font-size="8.6" textLength="43" lengthAdjust="spacing">输入端子台</text><text transform="translate(1157.9 464.3) scale(0.65 1)" x="2.84" y="0" font-size="8.6" text-anchor="middle" xml:space="preserve">)</text>
<path d="M1024.3 489.3 L1093 489.3"/>
<path d="M1024.3 500.6 L1093 500.6"/>
<text x="1034.2" y="498.27" font-size="8.4" textLength="16.8" lengthAdjust="spacing">对应</text><text transform="translate(1051 498.27) scale(0.76 1)" x="2.77 8.32 13.86" y="0" font-size="8.4" text-anchor="middle" xml:space="preserve">PS1</text>
<rect x="1112" y="488.6" width="10.2" height="12.9" fill="#fff"/>
<path d="M1122.4 488.6 L1122.4 501.6 L1112 501.6" stroke-width="1.5"/>
<text x="1126" y="498.01" font-size="8.5" textLength="17" lengthAdjust="spacing">气体</text>
<path d="M1024.3 517.6 L1093 517.6"/>
<path d="M1024.3 528.9 L1093 528.9"/>
<text x="1034.2" y="526.57" font-size="8.4" textLength="16.8" lengthAdjust="spacing">对应</text><text transform="translate(1051 526.57) scale(0.76 1)" x="2.77 8.32 13.86" y="0" font-size="8.4" text-anchor="middle" xml:space="preserve">PS2</text>
<rect x="1112" y="516.9" width="10.2" height="12.9" fill="#fff"/>
<path d="M1122.4 516.9 L1122.4 529.9 L1112 529.9" stroke-width="1.5"/>
<text x="1126" y="526.31" font-size="8.5" textLength="17" lengthAdjust="spacing">进水</text>
<path d="M1024.3 546.2 L1093 546.2"/>
<path d="M1024.3 557.6 L1093 557.6"/>
<text x="1034.2" y="555.22" font-size="8.4" textLength="16.8" lengthAdjust="spacing">对应</text><text transform="translate(1051 555.22) scale(0.76 1)" x="2.77 8.32 13.86" y="0" font-size="8.4" text-anchor="middle" xml:space="preserve">PS3</text>
<rect x="1112" y="545.5" width="10.2" height="13" fill="#fff"/>
<path d="M1122.4 545.5 L1122.4 558.6 L1112 558.6" stroke-width="1.5"/>
<text x="1126" y="554.96" font-size="8.5" textLength="17" lengthAdjust="spacing">出水</text>
<rect x="774.1" y="383.6" width="230.2" height="122.3"/>
<path d="M827.5 277.5 L770.2 277.5 Q766.2 277.5 766.2 281.5 L766.2 369.6 Q766.2 373.6 770.2 373.6 L805.2 373.6 Q809.2 373.6 809.2 377.6 L809.2 413.4"/>
<path d="M827.5 311.1 L785.1 311.1 Q781.1 311.1 781.1 315.1 L781.1 362.2 Q781.1 366.2 785.1 366.2 L854.6 366.2 Q858.6 366.2 858.6 370.2 L858.6 413.4"/>
<path d="M827.5 344.6 L801.5 344.6 Q797.5 344.6 797.5 348.6 L797.5 358.7 Q797.5 362.7 801.5 362.7 L926.7 362.7 Q930.7 362.7 930.7 366.7 L930.7 413.4"/>
<text transform="translate(797.2 399.78) scale(0.63 1)" x="3.46 10.39" y="0" font-size="10.5" text-anchor="middle" xml:space="preserve">11</text>
<text transform="translate(844.5 399.78) scale(0.71 1)" x="3.46 10.39" y="0" font-size="10.5" text-anchor="middle" xml:space="preserve">12</text>
<text transform="translate(917.8 399.78) scale(0.71 1)" x="3.47 10.4" y="0" font-size="10.5" text-anchor="middle" xml:space="preserve">13</text>
<rect x="786.8" y="439.5" width="171.5" height="9.7"/>
<rect x="786.8" y="475.6" width="160.8" height="9.6"/>
<path d="M940.2 475.6 L940.2 485.2"/>
<path d="M796.5 408.4 L822.7 408.4"/>
<path d="M796.5 487 L822.7 487"/>
<path d="M796.5 408.4 L796.5 487" stroke-dasharray="7.5 2 1.6 2"/>
<path d="M822.7 408.4 L822.7 487" stroke-dasharray="7.5 2 1.6 2"/>
<path d="M809.2 418.4 L809.2 442"/>
<polygon points="804,425.8 814.4,425.8 809.2,433.6" fill="#000" stroke="none"/>
<path d="M804.2 434 L814.2 434"/>
<path d="M811 417.6 L816.4 422.2 L816.4 472 L811 478.7"/>
<polygon points="811.2,464.4 821.6,464.4 816.4,456.4" fill="#000" stroke="none"/>
<path d="M811.4 456 L821.4 456"/>
<circle cx="809.2" cy="415.9" r="2.5" fill="#fff"/>
<circle cx="809.2" cy="444.5" r="2.5" fill="#fff"/>
<circle cx="809.2" cy="480.5" r="2.5" fill="#fff"/>
<text transform="translate(800.5 499.18) scale(0.79 1)" x="3.47 10.4 17.32" y="0" font-size="10.5" text-anchor="middle" xml:space="preserve">DR1</text>
<path d="M845.7 408.4 L871.9 408.4"/>
<path d="M845.7 487 L871.9 487"/>
<path d="M845.7 408.4 L845.7 487" stroke-dasharray="7.5 2 1.6 2"/>
<path d="M871.9 408.4 L871.9 487" stroke-dasharray="7.5 2 1.6 2"/>
<path d="M858.6 418.4 L858.6 442"/>
<polygon points="853.4,425.8 863.8,425.8 858.6,433.6" fill="#000" stroke="none"/>
<path d="M853.6 434 L863.6 434"/>
<path d="M860.4 417.6 L865.8 422.2 L865.8 472 L860.4 478.7"/>
<polygon points="860.6,464.4 871,464.4 865.8,456.4" fill="#000" stroke="none"/>
<path d="M860.8 456 L870.8 456"/>
<circle cx="858.6" cy="415.9" r="2.5" fill="#fff"/>
<circle cx="858.6" cy="444.5" r="2.5" fill="#fff"/>
<circle cx="858.6" cy="480.5" r="2.5" fill="#fff"/>
<text transform="translate(849.7 499.18) scale(0.79 1)" x="3.47 10.4 17.32" y="0" font-size="10.5" text-anchor="middle" xml:space="preserve">DR2</text>
<path d="M918.3 408.4 L944.5 408.4"/>
<path d="M918.3 487 L944.5 487"/>
<path d="M918.3 408.4 L918.3 487" stroke-dasharray="7.5 2 1.6 2"/>
<path d="M944.5 408.4 L944.5 487" stroke-dasharray="7.5 2 1.6 2"/>
<path d="M930.7 418.4 L930.7 442"/>
<polygon points="925.5,425.8 935.9,425.8 930.7,433.6" fill="#000" stroke="none"/>
<path d="M925.7 434 L935.7 434"/>
<path d="M932.5 417.6 L937.9 422.2 L937.9 472 L932.5 478.7"/>
<polygon points="932.7,464.4 943.1,464.4 937.9,456.4" fill="#000" stroke="none"/>
<path d="M932.9 456 L942.9 456"/>
<circle cx="930.7" cy="415.9" r="2.5" fill="#fff"/>
<circle cx="930.7" cy="444.5" r="2.5" fill="#fff"/>
<circle cx="930.7" cy="480.5" r="2.5" fill="#fff"/>
<text transform="translate(922.3 499.18) scale(0.79 1)" x="3.47 10.4 17.32" y="0" font-size="10.5" text-anchor="middle" xml:space="preserve">DR3</text>
<circle cx="792.3" cy="444.5" r="2.5" fill="#fff"/>
<circle cx="792.3" cy="480.5" r="2.5" fill="#fff"/>
<rect x="748" y="422.1" width="11.6" height="10.6"/>
<text x="753.8" y="431.36" font-size="11" text-anchor="middle" class="bl">J</text>
<rect x="748" y="439.5" width="11.6" height="10.6"/>
<text x="753.8" y="448.76" font-size="11" text-anchor="middle" class="bl">H</text>
<rect x="748" y="457.7" width="11.6" height="10.6"/>
<text x="753.8" y="466.96" font-size="11" text-anchor="middle" class="bl">C</text>
<rect x="748" y="475.4" width="11.6" height="10.6"/>
<text x="753.8" y="484.66" font-size="11" text-anchor="middle" class="bl">D</text>
<rect x="748" y="493.5" width="11.6" height="10.6"/>
<text x="753.8" y="502.76" font-size="11" text-anchor="middle" class="bl">E</text>
<path d="M759.6 444.5 L789.8 444.5"/>
<path d="M759.6 480.5 L789.8 480.5"/>
<path d="M759.6 427.2 L764.6 427.2 Q768.6 427.2 768.6 431.2 L768.6 440.5 Q768.6 444.5 772.6 444.5 L773 444.5"/>
<path d="M759.6 462.8 L764.6 462.8 Q768.6 462.8 768.6 466.8 L768.6 494.8 Q768.6 498.8 764.6 498.8 L759.6 498.8"/>
<text transform="translate(774.9 442.2) scale(0.71 1)" x="3.3 9.9" y="0" font-size="10" text-anchor="middle" xml:space="preserve">15</text>
<text transform="translate(774.9 478) scale(0.71 1)" x="3.3 9.9" y="0" font-size="10" text-anchor="middle" xml:space="preserve">14</text>
<text x="776" y="503.16" font-size="11" textLength="11.3" lengthAdjust="spacing">上</text>
<text transform="translate(884.2 436.58) scale(0.79 1)" x="3.47 10.4 17.33 24.26" y="0" font-size="10.5" text-anchor="middle" xml:space="preserve">THP2</text>
<path d="M883.3 459.3 L890.5 453.6 Q896.4 450.6 902.3 453.6 L909.6 459.3 L902.3 465 Q896.4 468 890.5 465Z" fill="#fff"/>
<ellipse cx="896.4" cy="459.4" rx="9.2" ry="7.4"/>
<path d="M892.9 455.5 L892.9 472.9" stroke-width="1.9"/>
<path d="M900 455.5 L900 472.9" stroke-width="1.9"/>
<path d="M892.9 472.9 L896.4 476.8 L900 472.9"/>
<path d="M896.4 476.8 L896.4 504"/>
<polygon points="896.4,510.4 894.5,502.4 898.3,502.4" fill="#000" stroke="none"/>
<text transform="translate(873.5 473.88) scale(0.76 1)" x="3.47 10.39 17.33" y="0" font-size="10.5" text-anchor="middle" xml:space="preserve">110</text>
<text transform="translate(900.9 473.88) scale(0.69 1)" x="3.47 10.4 17.33" y="0" font-size="10.5" text-anchor="middle" xml:space="preserve">111</text>
<g transform="rotate(-90 891.5 494.8)"><text transform="translate(884.5 497.32) scale(1 1)" x="2.33 7 11.67" y="0" font-size="7" text-anchor="middle" xml:space="preserve">T23</text></g>
<text x="888" y="521.94" font-size="11.5" textLength="23" lengthAdjust="spacing">对应</text><text transform="translate(911 521.94) scale(0.75 1)" x="3.8 11.39 18.98 26.57 34.16 41.75 49.34 56.92 64.52" y="0" font-size="11.5" text-anchor="middle" xml:space="preserve">PCB1 CN21</text>
<text transform="translate(961.8 430.38) scale(0.81 1)" x="3.47 10.4 17.33" y="0" font-size="10.5" text-anchor="middle" xml:space="preserve">DR4</text>
<path d="M961 434H978.3L981.7 437.5V468.8L978.3 472.3H961L957.6 468.8V437.5Z" fill="#fff"/>
<rect x="958.3" y="439.5" width="22.9" height="10"/>
<rect x="958.3" y="455.7" width="22.9" height="9.9"/>
<circle cx="963.8" cy="444.5" r="2.9"/>
<circle cx="975.7" cy="444.5" r="2.9"/>
<text transform="translate(967.6 446.68) scale(1 1)" x="2.1" y="0" font-size="5.5" text-anchor="middle" xml:space="preserve">A</text>
<circle cx="963.8" cy="460.6" r="2.9"/>
<circle cx="975.7" cy="460.6" r="2.9"/>
<text transform="translate(967.6 462.78) scale(1 1)" x="2.1" y="0" font-size="5.5" text-anchor="middle" xml:space="preserve">K</text>
<rect x="988.1" y="390.5" width="11.2" height="11.2"/>
<text x="993.7" y="400.06" font-size="11" text-anchor="middle" class="bl">A</text>
<path d="M993.6 401.7 L993.6 456.6 Q993.6 460.6 989.6 460.6 L978.6 460.6"/>
<text transform="translate(987.4 470.68) scale(0.71 1)" x="3.46 10.39" y="0" font-size="10.5" text-anchor="middle" xml:space="preserve">21</text>
<path d="M933.2 480.5 L947.6 480.5"/>
<rect x="774.1" y="524.8" width="230.4" height="123.1"/>
<rect x="801.5" y="511" width="11.3" height="10.2"/>
<text x="807.15" y="519.88" font-size="10.5" text-anchor="middle" class="bl">F</text>
<rect x="817.5" y="511" width="11.3" height="10.2"/>
<text x="823.15" y="519.88" font-size="10.5" text-anchor="middle" class="bl">K</text>
<rect x="833.1" y="511" width="11.4" height="10.2"/>
<text x="838.8" y="519.88" font-size="10.5" text-anchor="middle" class="bl">L</text>
<text x="776.2" y="537.56" font-size="11" textLength="10.6" lengthAdjust="spacing">上</text>
<text transform="translate(808.6 556.08) scale(0.7 1)" x="3.47 10.4" y="0" font-size="10.5" text-anchor="middle" xml:space="preserve">14</text>
<text transform="translate(825.2 551.78) scale(0.69 1)" x="3.47 10.39" y="0" font-size="10.5" text-anchor="middle" xml:space="preserve">16</text>
<path d="M799.5 560.2H831.5L835.3 564V579.6L831.5 583.4H799.5L795.7 579.6V564Z" fill="#fff"/>
<rect x="802.6" y="560.2" width="10.1" height="23.2"/>
<rect x="818.3" y="560.2" width="10.1" height="23.2"/>
<path d="M807.3 521.2 L807.3 563.2"/>
<path d="M823 521.2 L823 554.8"/>
<rect x="821.2" y="554.8" width="4" height="8.4" fill="#fff"/>
<path d="M838.7 521.2 L838.7 562.3 Q838.7 565.8 835.2 565.8 L826 565.8"/>
<circle cx="807.3" cy="566.2" r="3" fill="#fff"/>
<circle cx="807.3" cy="578" r="3" fill="#fff"/>
<text transform="translate(805.5 574.1) scale(1 1)" x="1.8" y="0" font-size="5" text-anchor="middle" xml:space="preserve">A</text>
<circle cx="823" cy="566.2" r="3" fill="#fff"/>
<circle cx="823" cy="578" r="3" fill="#fff"/>
<text transform="translate(821.2 574.1) scale(1 1)" x="1.8" y="0" font-size="5" text-anchor="middle" xml:space="preserve">K</text>
<text transform="translate(776.8 577.58) scale(0.76 1)" x="3.47 10.4 17.33" y="0" font-size="10.5" text-anchor="middle" xml:space="preserve">DR5</text>
<text transform="translate(780 592.18) scale(0.75 1)" x="3.47 10.4" y="0" font-size="10.5" text-anchor="middle" xml:space="preserve">C4</text>
<rect x="783" y="593.8" width="18" height="6.6" rx="3.3" transform="rotate(-21 792 597)"/>
<path d="M807.3 581 Q807.3 590 800.6 593.3"/>
<path d="M783.5 600.8 Q776.5 604 777.6 610 Q778.6 615.7 787.6 615.7"/>
<rect x="803.7" y="600.6" width="8.6" height="9"/>
<rect x="803.7" y="637.1" width="8.6" height="9.3"/>
<rect x="782.6" y="609.6" width="50.1" height="11.4" fill="#fff"/>
<rect x="782.6" y="625.8" width="50.1" height="11.3" fill="#fff"/>
<text transform="translate(791.9 619.48) scale(0.77 1)" x="3.47 10.4 17.33" y="0" font-size="10.5" text-anchor="middle" xml:space="preserve">R5a</text>
<text transform="translate(808 635.78) scale(0.8 1)" x="3.47 10.4 17.32" y="0" font-size="10.5" text-anchor="middle" xml:space="preserve">R5b</text>
<path d="M823 581 Q823 603 810 616 Q800 628.5 787.6 631.8"/>
<path d="M827.7 615.7 Q838 617 837.6 624 Q837.4 631 827.7 631.8"/>
<circle cx="787.6" cy="615.7" r="2.1" fill="#000" stroke="none"/>
<circle cx="827.7" cy="615.7" r="2.1" fill="#000" stroke="none"/>
<circle cx="787.6" cy="631.8" r="2.1" fill="#000" stroke="none"/>
<circle cx="827.7" cy="631.8" r="2.1" fill="#000" stroke="none"/>
<text transform="translate(834.8 638.78) scale(0.74 1)" x="3.47 10.4" y="0" font-size="10.5" text-anchor="middle" xml:space="preserve">45</text>
<text transform="translate(845.6 542.78) scale(0.77 1)" x="3.47 10.4" y="0" font-size="10.5" text-anchor="middle" xml:space="preserve">24</text>
<text transform="translate(857.8 538.48) scale(0.78 1)" x="3.47 10.4" y="0" font-size="10.5" text-anchor="middle" xml:space="preserve">R9</text>
<text transform="translate(856.3 561.38) scale(0.7 1)" x="3.47 10.4" y="0" font-size="10.5" text-anchor="middle" xml:space="preserve">16</text>
<path d="M847.9 702 L847.9 552.2 Q847.9 548.2 851.9 548.2 L857.2 548.2"/>
<path d="M857.2 548.2 L859.11 544.53 Q859.8 543.2 861.3 543.17 L874 542.9"/>
<path d="M857.2 548.2 L858.97 550.85 Q859.8 552.1 861.3 552.1 L874 552.1"/>
<rect x="863.2" y="544.2" width="3.5" height="6.8" fill="#fff"/>
<rect x="863.9" y="545.4" width="2.1" height="4.4" fill="#000" stroke="none"/>
<polygon points="873.3,542.9 877.5,540.8 881.7,542.9 877.5,545" fill="#000" stroke="none"/>
<text transform="translate(882 545.26) scale(0.68 1)" x="1.98 5.94" y="0" font-size="6" text-anchor="middle" xml:space="preserve">G1</text>
<polygon points="873.3,552.1 877.5,550 881.7,552.1 877.5,554.2" fill="#000" stroke="none"/>
<text transform="translate(882 554.46) scale(0.68 1)" x="1.98 5.94" y="0" font-size="6" text-anchor="middle" xml:space="preserve">E1</text>
<polygon points="873.3,565.7 877.5,563.6 881.7,565.7 877.5,567.8" fill="#000" stroke="none"/>
<text transform="translate(882 568.06) scale(0.68 1)" x="1.98 5.94" y="0" font-size="6" text-anchor="middle" xml:space="preserve">E2</text>
<polygon points="873.3,575.5 877.5,573.4 881.7,575.5 877.5,577.6" fill="#000" stroke="none"/>
<text transform="translate(882 577.86) scale(0.68 1)" x="1.98 5.94" y="0" font-size="6" text-anchor="middle" xml:space="preserve">G2</text>
<path d="M874 565.7 L864.4 565.7 L864.4 575.5 L874 575.5"/>
<path d="M869.9 537 L962.7 537" stroke-dasharray="13.6 2.8 2.4 2.8"/>
<path d="M869.9 581.3 L962.7 581.3" stroke-dasharray="13.6 2.8 2.4 2.8"/>
<path d="M869.9 537 L869.9 581.3" stroke-dasharray="16 2.4 2 2.6 2 3 17"/>
<path d="M962.7 537 L962.7 581.3" stroke-dasharray="16 2.4 2 2.6 2 3 17"/>
<text transform="translate(906.8 534.38) scale(0.73 1)" x="3.47 10.4 17.33" y="0" font-size="10.5" text-anchor="middle" xml:space="preserve">TR1</text>
<text transform="translate(894.6 552.78) scale(0.65 1)" x="3.46 10.39" y="0" font-size="10.5" text-anchor="middle" xml:space="preserve">C1</text>
<text transform="translate(917.6 552.78) scale(0.69 1)" x="3.47 10.4" y="0" font-size="10.5" text-anchor="middle" xml:space="preserve">E2</text>
<text transform="translate(936.9 552.78) scale(0.62 1)" x="3.47 10.4 17.33 24.26" y="0" font-size="10.5" text-anchor="middle" xml:space="preserve">C2E1</text>
<path d="M899.9 565.6 L899.9 587.1"/>
<path d="M900.3 565.5 Q900.6 572.5 906.5 572.5"/>
<path d="M906.5 572.5 L927.5 572.5 Q931.5 572.5 931.5 576.5 L931.5 621.8 Q931.5 625.8 935.5 625.8 L940.1 625.8"/>
<path d="M945.1 565.6 L945.1 597.8"/>
<path d="M945.6 565.5 Q945.9 572.3 951.5 572.3"/>
<path d="M951.5 572.3 L955.9 572.3 Q959.9 572.3 959.9 576.3 L959.9 597.8"/>
<circle cx="899.9" cy="560.9" r="4.7" fill="#fff"/>
<circle cx="922.3" cy="560.9" r="4.7" fill="#fff"/>
<circle cx="945.1" cy="560.9" r="4.7" fill="#fff"/>
<rect x="894.4" y="587.1" width="11.3" height="10.3"/>
<text x="900.05" y="596.03" font-size="10.5" text-anchor="middle" class="bl">I</text>
<rect x="939.5" y="597.8" width="11.4" height="11.4"/>
<text x="945.2" y="607.28" font-size="10.5" text-anchor="middle" class="bl">L</text>
<rect x="954.3" y="597.8" width="11.6" height="11.4"/>
<text x="960.1" y="607.28" font-size="10.5" text-anchor="middle" class="bl">G</text>
<text transform="translate(862.8 595.78) scale(0.74 1)" x="3.47 10.4 17.33 24.26" y="0" font-size="10.5" text-anchor="middle" xml:space="preserve">THP1</text>
<path d="M869.2 605.6 L876 600.2 Q882.1 597.4 888.2 600.2 L895 605.6 L888.2 611 Q882.1 613.8 876 611Z" fill="#fff"/>
<ellipse cx="882.1" cy="605.7" rx="8.6" ry="6.3"/>
<path d="M878.2 601.8 L878.2 624.3" stroke-width="1.9"/>
<path d="M886 601.8 L886 624.3" stroke-width="1.9"/>
<path d="M878.2 624.3 L882.1 629.2 L886 624.3"/>
<path d="M882.1 629.2 L882.1 676"/>
<polygon points="882.1,682.2 880.2,674.2 884,674.2" fill="#000" stroke="none"/>
<text transform="translate(860 620.48) scale(0.76 1)" x="3.47 10.39 17.33" y="0" font-size="10.5" text-anchor="middle" xml:space="preserve">108</text>
<text transform="translate(886.4 620.48) scale(0.72 1)" x="3.47 10.4 17.33" y="0" font-size="10.5" text-anchor="middle" xml:space="preserve">109</text>
<text x="873.9" y="696.64" font-size="11.5" textLength="23" lengthAdjust="spacing">对应</text><text transform="translate(896.9 696.64) scale(0.75 1)" x="3.8 11.39 18.98 26.57 34.16 41.75 49.34 56.92 64.52" y="0" font-size="11.5" text-anchor="middle" xml:space="preserve">PCB1 CN22</text>
<polygon points="847.9,702.7 846,694.7 849.8,694.7" fill="#000" stroke="none"/>
<text x="840.7" y="716.34" font-size="11.5" textLength="23" lengthAdjust="spacing">对应</text><text transform="translate(863.7 716.34) scale(0.74 1)" x="3.79 11.38 18.98 26.57 34.16 41.75 49.34 56.93" y="0" font-size="11.5" text-anchor="middle" xml:space="preserve">PCB2 CN1</text>
<path d="M949.8 560.9 L980.2 560.9 Q984.2 560.9 984.2 564.9 L984.2 574.2"/>
<text transform="translate(967 558.58) scale(0.77 1)" x="3.47 10.4" y="0" font-size="10.5" text-anchor="middle" xml:space="preserve">16</text>
<path d="M984.2 574.2 L989.2 577.08 L979.2 582.85 L989.2 588.62 L979.2 594.38 L989.2 600.15 L979.2 605.92 L984.2 608.8"/>
<path d="M984.2 608.8 L984.2 621.8 Q984.2 625.8 980.2 625.8 L959.5 625.8"/>
<circle cx="984.2" cy="574.2" r="2.1" fill="#000" stroke="none"/>
<circle cx="984.2" cy="608.8" r="2.1" fill="#000" stroke="none"/>
<circle cx="940.1" cy="625.8" r="2.1" fill="#000" stroke="none"/>
<circle cx="959.5" cy="625.8" r="2.1" fill="#000" stroke="none"/>
<path d="M940.1 625.8 L947.2 625.8"/>
<path d="M947.2 620.8 L947.2 630.8"/>
<path d="M953.5 620.8 Q950 625.8 953.5 630.8"/>
<path d="M951.8 625.8 L959.5 625.8"/>
<text transform="translate(968 623.78) scale(0.78 1)" x="3.47 10.4" y="0" font-size="10.5" text-anchor="middle" xml:space="preserve">26</text>
<text transform="translate(917.6 618.98) scale(0.69 1)" x="3.47 10.4" y="0" font-size="10.5" text-anchor="middle" xml:space="preserve">15</text>
<text transform="translate(992.3 595.18) scale(0.73 1)" x="3.47 10.4" y="0" font-size="10.5" text-anchor="middle" xml:space="preserve">R4</text>
<text transform="translate(1002.6 594.92) scale(1 1)" x="3.05" y="0" font-size="7" text-anchor="middle" xml:space="preserve">A</text><text x="1008.7" y="594.92" font-size="7" textLength="7" lengthAdjust="spacing">～</text><text transform="translate(1015.7 594.92) scale(1 1)" x="3.05" y="0" font-size="7" text-anchor="middle" xml:space="preserve">C</text>
<text transform="translate(938 641.98) scale(0.69 1)" x="3.47 10.4" y="0" font-size="10.5" text-anchor="middle" xml:space="preserve">C3</text>
<text transform="translate(948.7 641.72) scale(1 1)" x="2.33 7 11.67" y="0" font-size="7" text-anchor="middle" xml:space="preserve">A.B</text>
<rect x="1060.9" y="584.1" width="32.6" height="51.8"/>
<path d="M1110 584.1 L1117.5 584.1 L1117.5 635.9 L1110 635.9"/>
<circle cx="1059.3" cy="590.2" r="1.6" fill="#fff"/>
<text transform="translate(1061.7 593.6) scale(0.65 1)" x="2.84" y="0" font-size="8.6" text-anchor="middle" xml:space="preserve">1</text>
<circle cx="1059.3" cy="599.7" r="1.6" fill="#fff"/>
<text transform="translate(1061.7 603.1) scale(0.65 1)" x="2.84" y="0" font-size="8.6" text-anchor="middle" xml:space="preserve">2</text>
<circle cx="1059.3" cy="609.8" r="1.6" fill="#fff"/>
<text transform="translate(1061.7 613.2) scale(0.65 1)" x="2.84" y="0" font-size="8.6" text-anchor="middle" xml:space="preserve">3</text>
<circle cx="1059.3" cy="619.6" r="1.6" fill="#fff"/>
<text transform="translate(1061.7 623) scale(0.65 1)" x="2.84" y="0" font-size="8.6" text-anchor="middle" xml:space="preserve">4</text>
<circle cx="1059.3" cy="629.5" r="1.6" fill="#fff"/>
<text transform="translate(1061.7 632.9) scale(0.65 1)" x="2.84" y="0" font-size="8.6" text-anchor="middle" xml:space="preserve">5</text>
<text transform="translate(1115.1 646.3) scale(0.84 1)" x="3.3 9.9 16.5 23.1" y="0" font-size="10" text-anchor="middle" xml:space="preserve">CON3</text>
<text transform="translate(1040.6 588.73) scale(0.82 1)" x="2.41 7.23 12.05" y="0" font-size="7.3" text-anchor="middle" xml:space="preserve">131</text>
<text transform="translate(1040.6 598.33) scale(0.82 1)" x="2.41 7.23 12.05" y="0" font-size="7.3" text-anchor="middle" xml:space="preserve">132</text>
<text transform="translate(1044.7 617.85) scale(0.71 1)" x="2.24 6.73 11.22" y="0" font-size="6.8" text-anchor="middle" xml:space="preserve">127</text>
<text transform="translate(1044.7 627.45) scale(0.71 1)" x="2.24 6.73 11.22" y="0" font-size="6.8" text-anchor="middle" xml:space="preserve">128</text>
<path d="M1057.7 590.2 L1029 590.2 Q1024 590.2 1024 595.2 L1024 690.1"/>
<path d="M1057.7 599.7 L1029.4 599.7 Q1024.4 599.7 1024.4 604.7 L1024.4 612"/>
<path d="M1057.7 619.6 L1047.3 619.6 Q1043.3 619.6 1043.3 623.6 L1043.3 688"/>
<path d="M1057.7 629.5 L1047.7 629.5 Q1043.7 629.5 1043.7 633.5 L1043.7 640"/>
<polygon points="1043.6,693.8 1041.7,685.8 1045.5,685.8" fill="#000" stroke="none"/>
<rect x="1020.9" y="690.1" width="7.8" height="11.9" fill="#fff"/>
<path d="M1020.9 695.9 L1028.7 695.9"/>
<path d="M1024.6 702 L1024.6 724"/>
<polygon points="1024.6,729.4 1022.7,721.4 1026.5,721.4" fill="#000" stroke="none"/>
<g transform="rotate(-90 1020 713)"><text transform="translate(1013 715.52) scale(1 1)" x="2.33 7 11.67" y="0" font-size="7" text-anchor="middle" xml:space="preserve">T27</text></g>
<text x="1036.5" y="708.84" font-size="11.5" textLength="23" lengthAdjust="spacing">对应</text><text transform="translate(1059.5 708.84) scale(0.77 1)" x="3.8 11.39 18.98 26.57 34.16 41.75 49.34 56.93" y="0" font-size="11.5" text-anchor="middle" xml:space="preserve">PCB3 CN4</text>
<text x="1017.6" y="742.34" font-size="11.5" textLength="23" lengthAdjust="spacing">对应</text><text transform="translate(1040.6 742.34) scale(0.77 1)" x="3.8 11.39 18.98 26.57 34.16 41.75 49.34 56.93 64.52 72.11 79.7" y="0" font-size="11.5" text-anchor="middle" xml:space="preserve">PCB5 CN2,S4</text>
<rect x="364.8" y="288.3" width="80.3" height="127"/>
<text transform="translate(447.1 297.88) scale(0.84 1)" x="3.47 10.4 17.33" y="0" font-size="10.5" text-anchor="middle" xml:space="preserve">C.C</text>
<rect x="424.9" y="265" width="11.9" height="11.4"/>
<text x="430.85" y="274.66" font-size="11" text-anchor="middle" class="bl">M</text>
<path d="M430.6 276.4 L430.6 313"/>
<text transform="translate(380.3 305.38) scale(0.7 1)" x="3.47 10.4" y="0" font-size="10.5" text-anchor="middle" xml:space="preserve">19</text>
<text transform="translate(408 305.38) scale(0.72 1)" x="3.47 10.4" y="0" font-size="10.5" text-anchor="middle" xml:space="preserve">18</text>
<text transform="translate(432.2 305.38) scale(0.79 1)" x="3.47 10.4" y="0" font-size="10.5" text-anchor="middle" xml:space="preserve">48</text>
<text transform="translate(380.3 405.58) scale(0.7 1)" x="3.47 10.4" y="0" font-size="10.5" text-anchor="middle" xml:space="preserve">14</text>
<text transform="translate(408 405.58) scale(0.72 1)" x="3.47 10.4" y="0" font-size="10.5" text-anchor="middle" xml:space="preserve">23</text>
<text transform="translate(432.2 405.58) scale(0.79 1)" x="3.47 10.4" y="0" font-size="10.5" text-anchor="middle" xml:space="preserve">46</text>
<path d="M379.1 316 V325.8 Q379.1 327.2 382.1 328.2 Q385.5 329.5 385.5 335 V368.5 Q385.5 374 382.1 375 Q379.1 376 379.1 377.5 V387.4"/>
<ellipse cx="379.4" cy="337.6" rx="5.5" ry="2.7"/>
<ellipse cx="379.4" cy="344.75" rx="5.5" ry="2.7"/>
<ellipse cx="379.4" cy="351.9" rx="5.5" ry="2.7"/>
<ellipse cx="379.4" cy="359.05" rx="5.5" ry="2.7"/>
<ellipse cx="379.4" cy="366.2" rx="5.5" ry="2.7"/>
<circle cx="379.1" cy="314.6" r="1.6" fill="#fff"/>
<circle cx="379.1" cy="388.8" r="1.6" fill="#fff"/>
<path d="M407 316 V325.8 Q407 327.2 404 328.2 Q400.6 329.5 400.6 335 V368.5 Q400.6 374 404 375 Q407 376 407 377.5 V387.4"/>
<ellipse cx="406.3" cy="337.6" rx="5.5" ry="2.7"/>
<ellipse cx="406.3" cy="344.75" rx="5.5" ry="2.7"/>
<ellipse cx="406.3" cy="351.9" rx="5.5" ry="2.7"/>
<ellipse cx="406.3" cy="359.05" rx="5.5" ry="2.7"/>
<ellipse cx="406.3" cy="366.2" rx="5.5" ry="2.7"/>
<circle cx="407" cy="314.6" r="1.6" fill="#fff"/>
<circle cx="407" cy="388.8" r="1.6" fill="#fff"/>
<path d="M430.6 316 V325.8 Q430.6 327.2 427.6 328.2 Q424.2 329.5 424.2 335 V368.5 Q424.2 374 427.6 375 Q430.6 376 430.6 377.5 V387.4"/>
<ellipse cx="429.9" cy="337.6" rx="5.5" ry="2.7"/>
<ellipse cx="429.9" cy="344.75" rx="5.5" ry="2.7"/>
<ellipse cx="429.9" cy="351.9" rx="5.5" ry="2.7"/>
<ellipse cx="429.9" cy="359.05" rx="5.5" ry="2.7"/>
<ellipse cx="429.9" cy="366.2" rx="5.5" ry="2.7"/>
<circle cx="430.6" cy="314.6" r="1.6" fill="#fff"/>
<circle cx="430.6" cy="388.8" r="1.6" fill="#fff"/>
<circle cx="381.9" cy="322.3" r="1.9" fill="#000" stroke="none"/>
<circle cx="403.9" cy="379.6" r="1.9" fill="#000" stroke="none"/>
<circle cx="428" cy="324" r="1.9" fill="#000" stroke="none"/>
<path d="M390.6 314.3 L390.6 385.3" stroke-width="1.25"/>
<path d="M394.7 314.3 L394.7 385.3" stroke-width="1.25"/>
<path d="M379.1 390.4 L379.1 434.5"/>
<path d="M407 390.4 L407 434.5"/>
<path d="M430.6 390.4 L430.6 434.5"/>
<path d="M379.1 402.5 L378.06 404.28 Q376.3 407.3 372.8 407.3 L365.3 407.3 Q361.8 407.3 361.8 410.8 L361.8 434.5"/>
<rect x="356.4" y="434.5" width="11.5" height="11"/>
<text x="362.15" y="443.96" font-size="11" text-anchor="middle" class="bl">U</text>
<rect x="373.5" y="434.5" width="11.5" height="11"/>
<text x="379.25" y="443.96" font-size="11" text-anchor="middle" class="bl">C</text>
<rect x="401.4" y="434.5" width="11.5" height="11"/>
<text x="407.15" y="443.96" font-size="11" text-anchor="middle" class="bl">R</text>
<rect x="425" y="434.5" width="11.8" height="11"/>
<text x="430.9" y="443.96" font-size="11" text-anchor="middle" class="bl">N</text>
<rect x="380.6" y="471.5" width="120.1" height="59.2"/>
<text transform="translate(388.3 498.98) scale(0.83 1)" x="3.47 10.4" y="0" font-size="10.5" text-anchor="middle" xml:space="preserve">55</text>
<text transform="translate(482 498.98) scale(0.79 1)" x="3.47 10.4" y="0" font-size="10.5" text-anchor="middle" xml:space="preserve">16</text>
<text transform="translate(432.5 522.18) scale(0.76 1)" x="3.47 10.4" y="0" font-size="10.5" text-anchor="middle" xml:space="preserve">L1</text>
<path d="M384.5 501.5 H414.8 Q416.4 495.2 421 495.2 H458.5 Q463 495.2 464.6 501.5 H496.8"/>
<ellipse cx="425.2" cy="501.4" rx="2.8" ry="4.9"/>
<ellipse cx="432.47" cy="501.4" rx="2.8" ry="4.9"/>
<ellipse cx="439.74" cy="501.4" rx="2.8" ry="4.9"/>
<ellipse cx="447.01" cy="501.4" rx="2.8" ry="4.9"/>
<ellipse cx="454.28" cy="501.4" rx="2.8" ry="4.9"/>
<path d="M417.1 488.5 L458.2 488.5" stroke-width="1.2"/>
<path d="M417.1 491.7 L458.2 491.7" stroke-width="1.2"/>
<circle cx="380.6" cy="501.5" r="3.9" fill="#fff"/>
<circle cx="500.7" cy="501.5" r="3.9" fill="#fff"/>
<path d="M376.7 501.5 L363.7 501.5 Q359.7 501.5 359.7 505.5 L359.7 521.4"/>
<rect x="353.7" y="521.4" width="13.2" height="11.6"/>
<text x="360.3" y="530.8" font-size="10" text-anchor="middle" class="bl">Q1</text>
<path d="M504.6 501.5 L524.4 501.5 Q528.4 501.5 528.4 505.5 L528.4 520.4"/>
<rect x="522.3" y="520.4" width="11.5" height="10.8"/>
<text x="528.05" y="529.76" font-size="11" text-anchor="middle" class="bl">G</text>
<text x="429.8" y="557.94" font-size="11.5" textLength="23" lengthAdjust="spacing">对应</text><text transform="translate(452.8 557.94) scale(0.74 1)" x="3.8 11.39 18.98 26.57" y="0" font-size="11.5" text-anchor="middle" xml:space="preserve">PCB3</text>
<text transform="translate(452.9 570.78) scale(0.82 1)" x="3.47 10.4 17.32" y="0" font-size="10.5" text-anchor="middle" xml:space="preserve">CN8</text>
<polygon points="476.7,552.8 484.7,550.9 484.7,554.7" fill="#000" stroke="none"/>
<path d="M481 552.8 L514.6 552.8 Q518.6 552.8 518.6 556.8 L518.6 586.5"/>
<path d="M565.4 357.6 L568 359 L572.5 356.4 L577 357.6 L581 359.5 L580.5 362 V373 A7.5 7.5 0 0 1 565.6 373 V362Z" fill="url(#hx)"/>
<path d="M565.4 370 L565.4 388.9"/>
<path d="M580.4 370 L580.4 388.9"/>
<rect x="566.6" y="388.9" width="12.6" height="8.2"/>
<rect x="564.6" y="397.1" width="16.3" height="23.6"/>
<path d="M564.6 398.8H549Q544.5 398.8 544.5 403.3V415.2Q544.5 419.7 549 419.7H564.6"/>
<path d="M573.8 401.6 H586.5 L589 400.3 L588 403.5 Q592.5 409 588.5 414.5 L589.5 417.5 L586 416.6 H573.8 A7.5 7.5 0 0 1 573.8 401.6Z" fill="url(#hx)"/>
<text transform="translate(532.6 396.98) scale(0.66 1)" x="3.47 10.39 17.33 24.25" y="0" font-size="10.5" text-anchor="middle" xml:space="preserve">SOL4</text>
<rect x="566.6" y="420.7" width="12.6" height="7.3"/>
<rect x="560.2" y="428.2" width="25.8" height="33"/>
<path d="M572.5 428.2 L587 437.2 V452 L572.5 461.2 L558.2 452 V437.2Z" fill="#fff"/>
<text transform="translate(538.6 446.88) scale(0.62 1)" x="3.47 10.4 17.33 24.26" y="0" font-size="10.5" text-anchor="middle" xml:space="preserve">SOL3</text>
<text transform="translate(591.5 434.98) scale(0.62 1)" x="3.47 10.4" y="0" font-size="10.5" text-anchor="middle" xml:space="preserve">44</text>
<text transform="translate(591.5 450.18) scale(0.62 1)" x="3.47 10.4" y="0" font-size="10.5" text-anchor="middle" xml:space="preserve">43</text>
<path d="M583 438 L615.2 438 Q619.2 438 619.2 434 L619.2 425"/>
<path d="M583 452.1 L615.2 452.1 Q619.2 452.1 619.2 448.1 L619.2 430"/>
<rect x="567" y="461.2" width="11.9" height="8.2"/>
<rect x="565.4" y="469.4" width="14.8" height="27.5"/>
<circle cx="573" cy="483" r="10.8" fill="#fff"/>
<text transform="translate(541.9 486.96) scale(0.76 1)" x="3.63 10.89 18.15" y="0" font-size="11" text-anchor="middle" xml:space="preserve">PS2</text>
<text transform="translate(586.2 475.28) scale(0.63 1)" x="3.47 10.4 17.33" y="0" font-size="10.5" text-anchor="middle" xml:space="preserve">146</text>
<text transform="translate(586.2 500.38) scale(0.63 1)" x="3.47 10.4 17.33" y="0" font-size="10.5" text-anchor="middle" xml:space="preserve">158</text>
<rect x="567" y="496.9" width="11.9" height="6.6"/>
<path d="M565.4 503.5 H580.2 V512.1 H588.8 M565.4 503.5 V519 Q565.4 526.6 573 526.6 H588.8"/>
<path d="M588.8 513.4 H604.9 L607 515.5 L600.9 524.2 L602.7 526 H588.8 Z" fill="url(#hx)" stroke-width=".9"/>
<path d="M602.2 510.6 L607 515.5 L600.9 524.2 L605.7 529"/>
<text x="588" y="540.29" font-size="8.3" textLength="16.6" lengthAdjust="spacing">对应</text>
<text x="588" y="550.89" font-size="8.3" textLength="16.6" lengthAdjust="spacing">后板</text>
<text x="588" y="561.59" font-size="8.3" textLength="16.6" lengthAdjust="spacing">送水</text>
<path d="M580 477.7 L617.2 477.7 Q622.2 477.7 622.21 482.7 L622.29 543.6 Q622.3 548.6 625.19 552.68 L687.91 641.32 Q690.8 645.4 690.8 650.4 L690.8 742"/>
<path d="M580 490.5 L617.2 490.5 Q622.2 490.5 622.2 495.5 L622.2 500"/>
<polygon points="690.8,747.7 688.9,739.7 692.7,739.7" fill="#000" stroke="none"/>
<text x="682.8" y="760.24" font-size="11.5" textLength="23" lengthAdjust="spacing">对应</text><text transform="translate(705.8 760.24) scale(0.77 1)" x="3.8 11.39 18.98 26.57 34.16 41.74 49.34 56.93 64.52" y="0" font-size="11.5" text-anchor="middle" xml:space="preserve">PCB1 CN20</text>
<path d="M690.8 689 Q690.8 706 680 708.4 Q668 711.5 667.7 721 V737"/>
<polygon points="667.7,742.6 665.8,734.6 669.6,734.6" fill="#000" stroke="none"/>
<text transform="translate(643.2 752.3) scale(0.87 1)" x="3.3 9.9 16.5 23.1 29.7 36.3" y="0" font-size="10" text-anchor="middle" xml:space="preserve">MS,PS3</text>
<path d="M659.8 333 H643.4 L641 335.6 L647.1 345.4 L646.6 346 H659.8 Z" fill="url(#hx)" stroke-width=".9"/>
<path d="M645.7 329.7 L641 335.6 L647.1 345.4 L642.3 349.6"/>
<path d="M659.8 332.3 H675.5 Q683.6 332.3 683.6 340.5 V355.3 M659.8 346 H669.7 V355.3"/>
<rect x="670.8" y="355.3" width="11.6" height="7.9"/>
<path d="M669.4 363.4 H683.6 V391.8 H669.4 V385.3 H664.6 V370.8 H669.4 Z" fill="#fff"/>
<path d="M664.8 371.2 H648.2 L645.8 373.8 L651.9 383.5 L651.4 384.1 H664.8 Z" fill="url(#hx)" stroke-width=".9"/>
<path d="M650.5 367.9 L645.8 373.8 L651.9 383.5 L647.1 387.7"/>
<rect x="670.8" y="391.8" width="11.6" height="7.3"/>
<rect x="662.8" y="399.1" width="25.6" height="24.1"/>
<circle cx="675.4" cy="411.15" r="10.2"/>
<text transform="translate(642.1 412.73) scale(0.62 1)" x="3.47 10.4 17.33 24.26" y="0" font-size="10.5" text-anchor="middle" xml:space="preserve">SOL2</text>
<rect x="670.8" y="423.2" width="11.6" height="8"/>
<path d="M669.4 431.2 H683.6 V459.6 H669.4 V453.1 H664.6 V438.6 H669.4 Z" fill="#fff"/>
<path d="M664.8 439 H648.2 L645.8 441.6 L651.9 451.3 L651.4 451.9 H664.8 Z" fill="url(#hx)" stroke-width=".9"/>
<path d="M650.5 435.7 L645.8 441.6 L651.9 451.3 L647.1 455.5"/>
<rect x="670.8" y="459.6" width="11.6" height="7.3"/>
<rect x="662.8" y="466.9" width="25.6" height="24.1"/>
<circle cx="675.4" cy="478.95" r="10.2"/>
<text transform="translate(642.1 480.53) scale(0.62 1)" x="3.47 10.4 17.33 24.26" y="0" font-size="10.5" text-anchor="middle" xml:space="preserve">SOL1</text>
<rect x="670.8" y="491" width="11.6" height="7.3"/>
<path d="M669.4 498.3 H683.6 V527.4 H669.4 V520.9 H664.6 V505.7 H669.4 Z" fill="#fff"/>
<path d="M664.8 506.1 H648.2 L645.8 508.7 L651.9 519.1 L651.4 519.7 H664.8 Z" fill="url(#hx)" stroke-width=".9"/>
<path d="M650.5 502.8 L645.8 508.7 L651.9 519.1 L647.1 523.3"/>
<rect x="670.8" y="527.4" width="11.6" height="8.2"/>
<rect x="668.4" y="535.7" width="15.6" height="28.8"/>
<circle cx="675.7" cy="550" r="10.3" fill="#fff"/>
<path d="M682.5 545.3 L686 545.3"/>
<path d="M682 555.9 L686 555.9"/>
<text transform="translate(643.7 554.06) scale(0.72 1)" x="3.63 10.89 18.15" y="0" font-size="11" text-anchor="middle" xml:space="preserve">PS1</text>
<rect x="669.8" y="564.5" width="12.2" height="10.2"/>
<path d="M669 574.7 H682.7 V583.6 H692.3 M669 574.7 V590.5 Q669 598 676.5 598 H692.3"/>
<path d="M692.3 584.3 H708.6 L710.7 586.4 L704.6 595.9 L706.4 597.7 H692.3 Z" fill="url(#hx)" stroke-width=".9"/>
<path d="M705.9 581.5 L710.7 586.4 L704.6 595.9 L709.4 600.7"/>
<text x="692.9" y="610.59" font-size="8.3" textLength="16.5" lengthAdjust="spacing">对应</text>
<text x="692.9" y="621.49" font-size="8.3" textLength="16.5" lengthAdjust="spacing">后板</text>
<text x="692.9" y="632.49" font-size="8.3" textLength="16.5" lengthAdjust="spacing">气体</text>
<text transform="translate(693.6 403.88) scale(0.82 1)" x="3.47 10.4 17.32" y="0" font-size="10.5" text-anchor="middle" xml:space="preserve">105</text>
<text transform="translate(693.6 427.68) scale(0.82 1)" x="3.47 10.4 17.32" y="0" font-size="10.5" text-anchor="middle" xml:space="preserve">104</text>
<text transform="translate(693.6 470.68) scale(0.82 1)" x="3.47 10.4 17.32" y="0" font-size="10.5" text-anchor="middle" xml:space="preserve">103</text>
<text transform="translate(693.6 494.78) scale(0.82 1)" x="3.47 10.4 17.32" y="0" font-size="10.5" text-anchor="middle" xml:space="preserve">102</text>
<text transform="translate(691.6 541.68) scale(0.84 1)" x="3.47 10.4 17.33" y="0" font-size="10.5" text-anchor="middle" xml:space="preserve">106</text>
<text transform="translate(691.6 565.88) scale(0.84 1)" x="3.47 10.4 17.33" y="0" font-size="10.5" text-anchor="middle" xml:space="preserve">107</text>
<path d="M682 406.5 L728.2 406.5 Q732.7 406.5 732.7 411 L732.7 690"/>
<path d="M682 416.7 L727.7 416.7 Q732.7 416.7 732.7 421.7 L732.7 426.7"/>
<path d="M682 472.8 L727.7 472.8 Q732.7 472.8 732.7 477.8 L732.7 482.8"/>
<path d="M682 483.4 L727.7 483.4 Q732.7 483.4 732.7 488.4 L732.7 493.4"/>
<polygon points="732.7,695.2 730.8,687.2 734.6,687.2" fill="#000" stroke="none"/>
<text x="725.1" y="708.74" font-size="11.5" textLength="23" lengthAdjust="spacing">对应</text><text transform="translate(748.1 708.74) scale(0.77 1)" x="3.8 11.39 18.98 26.57 34.16 41.75 49.34 56.93" y="0" font-size="11.5" text-anchor="middle" xml:space="preserve">PCB1 CN6</text>
<path d="M683 545.3 L713.1 545.3 Q717.6 545.3 717.6 549.8 L717.6 713"/>
<path d="M682.5 555.9 L712.6 555.9 Q717.6 555.9 717.6 560.9 L717.6 566"/>
<polygon points="717.6,718.9 715.7,710.9 719.5,710.9" fill="#000" stroke="none"/>
<text x="709.9" y="732.14" font-size="11.5" textLength="23" lengthAdjust="spacing">对应</text><text transform="translate(732.9 732.14) scale(0.75 1)" x="3.8 11.39 18.98 26.57 34.16 41.75 49.34 56.92 64.52" y="0" font-size="11.5" text-anchor="middle" xml:space="preserve">PCB1 CN13</text>
<rect x="375.7" y="575.9" width="241.2" height="149.4" fill="#fff"/>
<path d="M375.7 637.5 L616.9 637.5"/>
<rect x="394.7" y="583.8" width="206.3" height="9.8"/>
<rect x="394.7" y="619.5" width="206.3" height="9.8"/>
<path d="M411.4 591 L411.4 604.8"/>
<path d="M406.5 603.4 Q411.4 606.6 416.3 603.4"/>
<path d="M406.5 610 L416.3 610"/>
<path d="M411.4 610 L411.4 622.4"/>
<circle cx="411.4" cy="589.1" r="1.9" fill="#fff"/>
<circle cx="411.4" cy="624.3" r="1.9" fill="#fff"/>
<path d="M445 591 L445 604.8"/>
<path d="M440.1 603.4 Q445 606.6 449.9 603.4"/>
<path d="M440.1 610 L449.9 610"/>
<path d="M445 610 L445 622.4"/>
<circle cx="445" cy="589.1" r="1.9" fill="#fff"/>
<circle cx="445" cy="624.3" r="1.9" fill="#fff"/>
<path d="M480.2 591 L480.2 604.8"/>
<path d="M475.3 603.4 Q480.2 606.6 485.1 603.4"/>
<path d="M475.3 610 L485.1 610"/>
<path d="M480.2 610 L480.2 622.4"/>
<circle cx="480.2" cy="589.1" r="1.9" fill="#fff"/>
<circle cx="480.2" cy="624.3" r="1.9" fill="#fff"/>
<path d="M519.3 591 L519.3 604.8"/>
<path d="M514.4 603.4 Q519.3 606.6 524.2 603.4"/>
<path d="M514.4 610 L524.2 610"/>
<path d="M519.3 610 L519.3 622.4"/>
<circle cx="519.3" cy="589.1" r="1.9" fill="#fff"/>
<circle cx="519.3" cy="624.3" r="1.9" fill="#fff"/>
<path d="M556.9 591 L556.9 604.8"/>
<path d="M552 603.4 Q556.9 606.6 561.8 603.4"/>
<path d="M552 610 L561.8 610"/>
<path d="M556.9 610 L556.9 622.4"/>
<circle cx="556.9" cy="589.1" r="1.9" fill="#fff"/>
<circle cx="556.9" cy="624.3" r="1.9" fill="#fff"/>
<path d="M591.2 591 L591.2 604.8"/>
<path d="M586.3 603.4 Q591.2 606.6 596.1 603.4"/>
<path d="M586.3 610 L596.1 610"/>
<path d="M591.2 610 L591.2 622.4"/>
<circle cx="591.2" cy="589.1" r="1.9" fill="#fff"/>
<circle cx="591.2" cy="624.3" r="1.9" fill="#fff"/>
<rect x="355.3" y="584.3" width="11.2" height="10.9"/>
<text x="360.9" y="593.71" font-size="11" text-anchor="middle" class="bl">D</text>
<rect x="355.3" y="601" width="11.2" height="10.7"/>
<text x="360.9" y="610.31" font-size="11" text-anchor="middle" class="bl">F</text>
<text transform="translate(382.3 588.88) scale(0.73 1)" x="3.47 10.4" y="0" font-size="10.5" text-anchor="middle" xml:space="preserve">14</text>
<path d="M366.5 589.6 L409.5 589.6"/>
<path d="M366.5 606.3 L384.4 606.3 Q388.9 606.3 388.9 601.8 L388.9 594.1 Q388.9 589.6 393.4 589.6 L394 589.6"/>
<text transform="translate(377 627.28) scale(0.8 1)" x="3.47 10.4" y="0" font-size="10.5" text-anchor="middle" xml:space="preserve">C2</text>
<text transform="translate(388.3 626.82) scale(1 1)" x="2.67" y="0" font-size="7" text-anchor="middle" xml:space="preserve">A</text><text x="393.65" y="626.82" font-size="7" textLength="7" lengthAdjust="spacing">～</text><text transform="translate(400.65 626.82) scale(1 1)" x="2.67" y="0" font-size="7" text-anchor="middle" xml:space="preserve">F</text>
<text x="619.8" y="589.66" font-size="11" textLength="10.2" lengthAdjust="spacing">上</text>
<text transform="translate(601.8 621.98) scale(0.73 1)" x="3.47 10.4" y="0" font-size="10.5" text-anchor="middle" xml:space="preserve">15</text>
<rect x="636.2" y="618.7" width="11.1" height="11.4"/>
<text x="641.75" y="628.36" font-size="11" text-anchor="middle" class="bl">H</text>
<rect x="636.2" y="639.3" width="11.1" height="11.4"/>
<text x="641.75" y="648.96" font-size="11" text-anchor="middle" class="bl">I</text>
<path d="M593.1 624.3 L636.2 624.3"/>
<path d="M604 624.3 L606.6 624.3 Q611.1 624.3 611.1 628.8 L611.1 640.1 Q611.1 644.6 615.6 644.6 L636.2 644.6"/>
<path d="M519.3 575 L519.3 587.2"/>
<path d="M369.6 781 L369.6 653.1 Q369.6 648.6 374.1 648.6 L418.3 648.6 Q422.8 648.6 422.8 653.1 L422.8 661"/>
<polygon points="369.6,786.6 367.7,778.6 371.5,778.6" fill="#000" stroke="none"/>
<text x="361" y="800.64" font-size="11.5" textLength="23" lengthAdjust="spacing">对应</text><text transform="translate(384 800.64) scale(0.76 1)" x="3.8 11.39 18.98 26.57 34.16 41.75 49.34 56.93" y="0" font-size="11.5" text-anchor="middle" xml:space="preserve">PCB1 CN1</text>
<rect x="380.5" y="657.1" width="60.8" height="54.2"/>
<rect x="388.9" y="662.3" width="14" height="12.2"/>
<text x="395.9" y="672" font-size="10" text-anchor="middle" class="bl">Q1</text>
<text transform="translate(396.9 687.58) scale(0.76 1)" x="3.47 10.4" y="0" font-size="10.5" text-anchor="middle" xml:space="preserve">55</text>
<text transform="translate(396.9 738.88) scale(0.76 1)" x="3.47 10.4" y="0" font-size="10.5" text-anchor="middle" xml:space="preserve">17</text>
<rect x="386.3" y="690.4" width="18.5" height="14.5" stroke-width="1.3"/>
<rect x="389.5" y="695.4" width="13.2" height="7.4"/>
<path d="M396.1 674.5 L396.1 744.3"/>
<rect x="388.9" y="744.3" width="14" height="12.7"/>
<text x="395.9" y="754.25" font-size="10" text-anchor="middle" class="bl">Q2</text>
<rect x="416.7" y="661" width="10.6" height="4.3"/>
<text transform="translate(415.4 673.37) scale(0.99 1)" x="2.08 6.24 10.4" y="0" font-size="6.3" text-anchor="middle" xml:space="preserve">CN2</text>
<text transform="translate(419.3 683.97) scale(0.91 1)" x="2.08 6.24 10.39" y="0" font-size="6.3" text-anchor="middle" xml:space="preserve">CN1</text>
<rect x="431.8" y="674.2" width="6.1" height="16.7"/>
<text transform="translate(416.2 696.57) scale(0.82 1)" x="2.08 6.24 10.4 14.55" y="0" font-size="6.3" text-anchor="middle" xml:space="preserve">PCB8</text>
<text transform="translate(410.1 707.77) scale(0.79 1)" x="2.08 6.24 10.39 14.55 18.71 22.87 27.03 31.19" y="0" font-size="6.3" text-anchor="middle" xml:space="preserve">(P6074H)</text>
<path d="M437.9 683 L441.1 683 Q445.6 683 445.6 687.5 L445.6 846"/>
<polygon points="445.3,851.2 443.4,843.2 447.2,843.2" fill="#000" stroke="none"/>
<text x="436.6" y="864.24" font-size="11.5" textLength="23" lengthAdjust="spacing">对应</text><text transform="translate(459.6 864.24) scale(0.76 1)" x="3.8 11.39 18.98 26.57 34.16 41.75 49.34 56.93 64.52" y="0" font-size="11.5" text-anchor="middle" xml:space="preserve">PCB1 CN23</text>
<text transform="translate(458.2 651.08) scale(0.8 1)" x="3.47 10.39 17.32" y="0" font-size="10.5" text-anchor="middle" xml:space="preserve">134</text>
<text transform="translate(481.5 652.38) scale(0.74 1)" x="3.47 10.4 17.33" y="0" font-size="10.5" text-anchor="middle" xml:space="preserve">CR1</text>
<text transform="translate(505.3 650.28) scale(0.76 1)" x="3.47 10.4" y="0" font-size="10.5" text-anchor="middle" xml:space="preserve">23</text>
<rect x="466.9" y="663.1" width="40.5" height="37.6"/>
<path d="M477.5 663.1 L477.5 657.6 Q477.5 653.1 473 653.1 L460.3 653.1 Q455.8 653.1 455.8 657.6 L455.8 818"/>
<path d="M477.5 700.7 L477.5 706.3 Q477.5 710.8 473 710.8 L460.3 710.8 Q455.8 710.8 455.8 715.3 L455.8 722"/>
<polygon points="456,823.9 454.1,815.9 457.9,815.9" fill="#000" stroke="none"/>
<text x="447.4" y="837.14" font-size="11.5" textLength="23" lengthAdjust="spacing">对应</text><text transform="translate(470.4 837.14) scale(0.76 1)" x="3.79 11.39 18.98 26.57 34.16 41.74 49.34 56.92 64.52" y="0" font-size="11.5" text-anchor="middle" xml:space="preserve">PCB1 CN12</text>
<text transform="translate(464.3 720.58) scale(0.79 1)" x="3.47 10.4 17.32" y="0" font-size="10.5" text-anchor="middle" xml:space="preserve">133</text>
<path d="M477.5 663.1 L477.5 675"/>
<path d="M477.5 692 L477.5 700.7"/>
<path d="M477.5 675 Q480.5 676 480.3 679"/><path d="M477.5 692 Q480.5 691.5 480.3 688.5"/>
<ellipse cx="477.5" cy="680.9" rx="3.6" ry="3"/><ellipse cx="477.5" cy="686.9" rx="3.6" ry="3"/>
<path d="M497.4 663.1 L497.4 679.5"/>
<path d="M492.1 679.5 L503.4 679.5"/>
<path d="M492.1 684.3 L503.4 684.3"/>
<path d="M497.4 684.3 L497.4 700.7"/>
<circle cx="477.5" cy="663.1" r="1.7" fill="#fff"/>
<circle cx="497.4" cy="663.1" r="1.7" fill="#fff"/>
<circle cx="477.5" cy="700.7" r="1.7" fill="#fff"/>
<circle cx="497.4" cy="700.7" r="1.7" fill="#fff"/>
<path d="M497.4 661.4 L497.4 657.6 Q497.4 653.1 501.9 653.1 L543.2 653.1"/>
<path d="M497.4 702.4 L497.4 706.8 Q497.4 711.3 501.9 711.3 L544.2 711.3"/>
<text transform="translate(510.6 708.68) scale(0.76 1)" x="3.47 10.4" y="0" font-size="10.5" text-anchor="middle" xml:space="preserve">20</text>
<rect x="544.2" y="705.5" width="11.3" height="11.1"/>
<text x="549.85" y="715.01" font-size="11" text-anchor="middle" class="bl">S</text>
<text x="525.9" y="646.51" font-size="6.7" textLength="40.2" lengthAdjust="spacing">绝缘接线端子</text>
<path d="M545.8 655.7 L545.8 666 Q545.8 670.5 550.3 670.5 L590.4 670.5"/>
<path d="M545.8 660 L545.8 685.6 Q545.8 690.1 550.3 690.1 L624 690.1"/>
<circle cx="545.8" cy="653.1" r="2.6" fill="#fff"/>
<rect x="548.9" y="650.7" width="9.3" height="4.5" fill="#fff"/>
<path d="M558.2 653.1 L590.4 653.1"/>
<rect x="590.4" y="647.8" width="11.4" height="10.8"/>
<text x="596.1" y="657.16" font-size="11" text-anchor="middle" class="bl">R</text>
<rect x="590.4" y="665.3" width="11.4" height="11.1"/>
<text x="596.1" y="674.81" font-size="11" text-anchor="middle" class="bl">X</text>
<polygon points="630.4,690.1 622.4,688.2 622.4,692" fill="#000" stroke="none"/>
<text x="632" y="694.94" font-size="11.5" textLength="23" lengthAdjust="spacing">对应</text><text transform="translate(655 694.94) scale(0.77 1)" x="3.8 11.38 18.98 26.57" y="0" font-size="11.5" text-anchor="middle" xml:space="preserve">PCB3</text>
<text transform="translate(655.7 709.08) scale(0.82 1)" x="3.47 10.39 17.33" y="0" font-size="10.5" text-anchor="middle" xml:space="preserve">CN8</text>
<rect x="463.5" y="725.3" width="95.2" height="53.7"/>
<rect x="467.7" y="730" width="86.5" height="44.7"/>
<rect x="473" y="740.6" width="6.4" height="16.4"/>
<rect x="542.3" y="740.6" width="5.8" height="16.4"/>
<text transform="translate(471.4 765.44) scale(0.89 1)" x="2.15 6.43 10.72" y="0" font-size="6.5" text-anchor="middle" xml:space="preserve">CN1</text>
<text transform="translate(536.2 765.44) scale(0.99 1)" x="2.15 6.44 10.72" y="0" font-size="6.5" text-anchor="middle" xml:space="preserve">CN2</text>
<text transform="translate(500.8 749.52) scale(0.94 1)" x="2.31 6.93 11.55 16.17 20.79" y="0" font-size="7" text-anchor="middle" xml:space="preserve">PCB10</text>
<text transform="translate(496 760.32) scale(0.87 1)" x="2.31 6.93 11.55 16.17 20.79 25.41 30.03 34.65" y="0" font-size="7" text-anchor="middle" xml:space="preserve">(P6681R)</text>
<path d="M479.4 748.6 L482.9 748.6 Q487.4 748.6 487.4 753.1 L487.4 793"/>
<polygon points="487.2,798.5 485.3,790.5 489.1,790.5" fill="#000" stroke="none"/>
<path d="M548.1 748.6 L560.7 748.6 Q565.2 748.6 565.2 753.1 L565.2 793"/>
<polygon points="565.1,798.5 563.2,790.5 567,790.5" fill="#000" stroke="none"/>
<text x="478.6" y="813.44" font-size="11.5" textLength="23" lengthAdjust="spacing">对应</text><text transform="translate(501.6 813.44) scale(0.78 1)" x="3.8 11.38 18.98 26.57" y="0" font-size="11.5" text-anchor="middle" xml:space="preserve">CON2</text>
<text x="556.5" y="813.44" font-size="11.5" textLength="23" lengthAdjust="spacing">对应</text>
<text transform="translate(556.5 825.98) scale(0.84 1)" x="3.47 10.4 17.33 24.26 31.19 38.12 45.05 51.98" y="0" font-size="10.5" text-anchor="middle" xml:space="preserve">PCB3 CN6</text>
<text transform="translate(330.2 658.46) scale(0.93 1)" x="3.63 10.89 18.15" y="0" font-size="11" text-anchor="middle" xml:space="preserve">PS3</text>
<g><rect x="325.1" y="621" width="32.8" height="6.9" fill="#fff"/><rect x="325.1" y="620.6" width="32.8" height="2.4" fill="#000" stroke="none"/><rect x="341.5" y="621" width="10" height="6.9" fill="#000" stroke="none"/><rect x="335.5" y="623.9" width="5.5" height="2.2" fill="#fff" stroke-width=".8"/><path d="M328.6 629.3 H319 V630.2 H317.2 V637.3 H319 V638.2 H328.6" fill="#fff"/><rect x="328.6" y="628.3" width="23.3" height="11.9" fill="#fff"/><path d="M328.6 634.2H351.9"/><rect x="330.5" y="629.6" width="19.5" height="3.4" fill="url(#hd)" stroke="none"/><rect x="351.9" y="628.3" width="5.5" height="12.4" fill="#fff"/><path d="M351.9 632.2H357.4M351.9 636.4H357.4"/><rect x="357.4" y="628.8" width="3.1" height="10.4" fill="#fff"/><rect x="331.4" y="640.2" width="20" height="6.2" fill="#fff"/><circle cx="334.5" cy="643" r="1.4"/><circle cx="347.4" cy="643" r="1.4"/><rect x="336" y="636.6" width="8" height="1.7" fill="#000" stroke="none"/></g>
<path d="M325.1 624.3 L317 624.3 Q312.5 624.3 312.5 628.8 L312.5 714"/>
<polygon points="312.5,719.5 310.6,711.5 314.4,711.5" fill="#000" stroke="none"/>
<path d="M312.5 642 Q312.5 652.5 319 654.6 Q325.6 656.8 325.6 664 V682"/>
<polygon points="325.6,687.5 323.8,680 327.4,680" fill="#000" stroke="none"/>
<text transform="translate(294 681.98) scale(0.77 1)" x="3.47 10.4 17.32" y="0" font-size="10.5" text-anchor="middle" xml:space="preserve">147</text>
<text transform="translate(326.8 674.58) scale(0.77 1)" x="3.47 10.4 17.32" y="0" font-size="10.5" text-anchor="middle" xml:space="preserve">158</text>
<text transform="translate(318.4 698.8) scale(0.87 1)" x="3.3 9.9 16.5 23.1 29.7 36.3" y="0" font-size="10" text-anchor="middle" xml:space="preserve">MS,PS2</text>
<text x="284.5" y="735.54" font-size="11.5" textLength="23" lengthAdjust="spacing">对应</text><text transform="translate(307.5 735.54) scale(0.75 1)" x="3.8 11.39 18.98 26.57" y="0" font-size="11.5" text-anchor="middle" xml:space="preserve">PCB1</text>
<text transform="translate(291.3 748.68) scale(0.94 1)" x="3.47 10.39 17.32 24.26 31.18 38.12" y="0" font-size="10.5" text-anchor="middle" xml:space="preserve">CN20MS</text>
<rect x="191.4" y="604.7" width="22" height="74.5"/>
<text transform="translate(188 603.38) scale(0.85 1)" x="3.47 10.4" y="0" font-size="10.5" text-anchor="middle" xml:space="preserve">14</text>
<rect x="222.5" y="588.5" width="11.2" height="10.8"/>
<text x="228.1" y="597.68" font-size="10.5" text-anchor="middle" class="bl">U</text>
<rect x="161.6" y="613.2" width="11.1" height="10.8"/>
<text x="167.15" y="622.38" font-size="10.5" text-anchor="middle" class="bl">V</text>
<path d="M202.2 614 L202.2 598.7 Q202.2 594.2 206.7 594.2 L222.5 594.2"/>
<path d="M172.7 618.3 L198 618.3"/>
<text transform="translate(137.2 626.78) scale(0.8 1)" x="3.47 10.4" y="0" font-size="10.5" text-anchor="middle" xml:space="preserve">80</text>
<path d="M198.4 634.4 L183.6 627.6 Q170 627.2 152.8 627.4 Q119 628 118.6 641.5 Q118.6 652 131 662 Q142 671.5 152 673.6 Q165 674.8 194.6 674.6"/>
<circle cx="196.1" cy="673.5" r="1.3" fill="#fff"/>
<circle cx="209.6" cy="610.2" r="1.4" fill="#fff"/>
<path d="M164.9 634.2 L198 634.2"/>
<path d="M164.9 666.4 L198 666.4"/>
<path d="M165.1 634.4 L165.1 645.9"/>
<path d="M160.4 644.6 Q165.1 648.2 169.8 644.6"/>
<path d="M160.4 653.1 L169.8 653.1"/>
<path d="M165.1 653.1 L165.1 666.6"/>
<path d="M178.8 634.4 L178.8 645.9"/>
<path d="M174.1 644.6 Q178.8 648.2 183.5 644.6"/>
<path d="M174.1 653.1 L183.5 653.1"/>
<path d="M178.8 653.1 L178.8 666.6"/>
<circle cx="178.8" cy="634.2" r="2" fill="#000" stroke="none"/>
<circle cx="178.8" cy="666.4" r="2" fill="#000" stroke="none"/>
<text transform="translate(167.3 661.48) scale(0.73 1)" x="2.64 7.92" y="0" font-size="8" text-anchor="middle" xml:space="preserve">C8</text>
<text transform="translate(180.6 661.48) scale(0.73 1)" x="2.64 7.92" y="0" font-size="8" text-anchor="middle" xml:space="preserve">C9</text>
<path d="M206.4 618.3 L241.2 618.3"/>
<path d="M206.4 634.2 L226.9 634.2"/>
<path d="M206.4 650.4 L241.2 650.4"/>
<path d="M226.9 618.4 L226.9 624.3"/>
<path d="M222.1 623 Q226.9 626.6 231.7 623"/>
<path d="M222.1 630.3 L231.7 630.3"/>
<path d="M226.9 630.3 L226.9 634.6"/>
<path d="M226.9 634.6 L226.9 639.7"/>
<path d="M222.1 638.4 Q226.9 642 231.7 638.4"/>
<path d="M222.1 645.7 L231.7 645.7"/>
<path d="M226.9 645.7 L226.9 650.5"/>
<path d="M241.4 618.4 L241.4 631.2"/>
<path d="M236.6 629.9 Q241.4 633.5 246.2 629.9"/>
<path d="M236.6 636.8 L246.2 636.8"/>
<path d="M241.4 636.8 L241.4 650.5"/>
<circle cx="226.9" cy="618.3" r="2" fill="#000" stroke="none"/>
<circle cx="226.9" cy="634.2" r="2" fill="#000" stroke="none"/>
<circle cx="226.9" cy="650.4" r="2" fill="#000" stroke="none"/>
<text transform="translate(231.8 624.68) scale(0.78 1)" x="2.64 7.92" y="0" font-size="8" text-anchor="middle" xml:space="preserve">C6</text>
<text transform="translate(232.2 647.78) scale(0.78 1)" x="2.64 7.92" y="0" font-size="8" text-anchor="middle" xml:space="preserve">C7</text>
<text transform="translate(243.1 643.88) scale(0.68 1)" x="2.64 7.92" y="0" font-size="8" text-anchor="middle" xml:space="preserve">C5</text>
<circle cx="202.2" cy="618.3" r="4.2" fill="#fff"/>
<circle cx="202.2" cy="634.2" r="4.2" fill="#fff"/>
<circle cx="202.2" cy="650.4" r="4.2" fill="#fff"/>
<circle cx="202.2" cy="666.4" r="4.2" fill="#fff"/>
<text transform="translate(219.5 663.58) scale(0.74 1)" x="3.47 10.4" y="0" font-size="10.5" text-anchor="middle" xml:space="preserve">23</text>
<rect x="252" y="660.8" width="11.5" height="11.1"/>
<text x="257.75" y="670.13" font-size="10.5" text-anchor="middle" class="bl">X</text>
<path d="M205.4 653.6 L215.73 664.43 Q217.8 666.6 220.8 666.6 L252 666.6"/>
<text transform="translate(202.6 691.48) scale(0.79 1)" x="3.47 10.4" y="0" font-size="10.5" text-anchor="middle" xml:space="preserve">17</text>
<path d="M202.2 670.6 L202.2 717.2"/>
<path d="M202.2 684 L200.92 686.9 Q199.5 690.1 196 690.1 L187.4 690.1 Q183.9 690.1 183.9 693.6 L183.9 717.2"/>
<rect x="178.5" y="717.2" width="11.2" height="10.8"/>
<text x="184.1" y="726.38" font-size="10.5" text-anchor="middle" class="bl">W</text>
<rect x="196.5" y="717.2" width="11.7" height="10.8"/>
<text x="202.35" y="726.38" font-size="10.5" text-anchor="middle" class="bl">T</text>
<text transform="translate(82.3 703.23) scale(0.8 1)" x="3.7 11.09" y="0" font-size="11.2" text-anchor="middle" xml:space="preserve">4P</text><text x="94.2" y="703.23" font-size="11.2" textLength="44.8" lengthAdjust="spacing">接线端子</text>
<path d="M139 695.2 L190 678.9"/>
<polygon points="194.8,677.5 194.7,677.4 194.7,677.6" fill="#000" stroke="none"/>
<polygon points="194.8,677.4 188.2,677.6 189.3,681" fill="#000" stroke="none"/>
</g></svg>
</body></html>
